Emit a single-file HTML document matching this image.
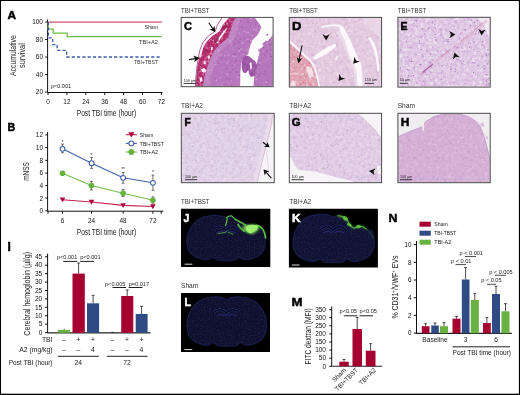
<!DOCTYPE html>
<html><head><meta charset="utf-8">
<style>
html,body{margin:0;padding:0;background:#fff;}
body{width:520px;height:395px;overflow:hidden;}
svg{display:block;font-family:"Liberation Sans",sans-serif;will-change:transform;}
</style></head><body>
<svg width="520" height="395" viewBox="0 0 520 395">
<rect x="0" y="0" width="520" height="395" fill="#000"/>
<rect x="1" y="1" width="517.9" height="392.7" fill="#fff"/>
<defs>
<filter id="spk" x="0" y="0" width="100%" height="100%" filterUnits="objectBoundingBox">
<feTurbulence type="fractalNoise" baseFrequency="0.42" numOctaves="2" seed="4" result="n"/>
<feColorMatrix in="n" type="matrix" values="0 0 0 0 0.42  0 0 0 0 0.18  0 0 0 0 0.48  0 0 0 -3.0 1.55" result="c"/>
<feGaussianBlur stdDeviation="0.35"/>
<feComposite in2="SourceAlpha" operator="in"/>
</filter>
<filter id="spkw" x="0" y="0" width="100%" height="100%" filterUnits="objectBoundingBox">
<feTurbulence type="fractalNoise" baseFrequency="0.38" numOctaves="2" seed="9" result="n"/>
<feColorMatrix in="n" type="matrix" values="0 0 0 0 1  0 0 0 0 1  0 0 0 0 1  0 0 0 2.2 -1.0" result="c"/>
<feGaussianBlur stdDeviation="0.4"/>
<feComposite in2="SourceAlpha" operator="in"/>
</filter>
<clipPath id="cC"><rect x="181.7" y="17.9" width="91" height="68.4"/></clipPath>
<clipPath id="cD"><rect x="289.8" y="17.9" width="91.3" height="68.6"/></clipPath>
<clipPath id="cE"><rect x="398.4" y="17.8" width="91.3" height="68.8"/></clipPath>
<clipPath id="cF"><rect x="181.8" y="113.8" width="91.9" height="68.4"/></clipPath>
<clipPath id="cG"><rect x="289.8" y="113.8" width="91.3" height="68.4"/></clipPath>
<clipPath id="cH"><rect x="398.4" y="113.8" width="91.3" height="68.4"/></clipPath>
<g id="ahd"><path d="M0 0L-3.6 -6.1L0 -4.4L3.6 -6.1Z" fill="#111" stroke="#fff" stroke-width="0.5" stroke-opacity="0.5" paint-order="stroke"/></g>
<clipPath id="cJ"><rect x="181" y="208.8" width="89.3" height="58.1"/></clipPath>
<clipPath id="cK"><rect x="288.9" y="208.8" width="89" height="58.7"/></clipPath>
<clipPath id="cL"><rect x="180.9" y="292.9" width="89" height="59"/></clipPath>
<filter id="bl1"><feGaussianBlur stdDeviation="0.8"/></filter>
<filter id="bl2"><feGaussianBlur stdDeviation="1.6"/></filter>
<filter id="bspk" x="0" y="0" width="100%" height="100%" filterUnits="objectBoundingBox">
<feTurbulence type="fractalNoise" baseFrequency="0.8" numOctaves="1" seed="2" result="n"/>
<feColorMatrix in="n" type="matrix" values="0 0 0 0 0.2  0 0 0 0 0.2  0 0 0 0 0.52  0 0 0 2.0 -0.9" result="c"/>
<feComposite in2="SourceAlpha" operator="in"/>
</filter>
<path id="brain" d="M0 -22C-4 -25 -10 -25.5 -17 -24.5C-24 -23.5 -29 -21 -33 -16C-37 -11 -40 -4 -40 3.5C-40 9 -39 13 -36 16.5C-33 20 -27 22.5 -21 23.6C-17 24 -15 21 -13.6 21C-12 21 -11 23.6 -8 24.2C-5 24.6 -2 24.5 0 24.5C2 24.5 5 24.6 8 24.2C11 23.6 12 21 13.6 21C15 21 17 24 21 23.6C27 22.5 33 20 36 16.5C39 13 40 9 40 3.5C40 -4 37 -11 33 -16C29 -21 24 -23.5 17 -24.5C10 -25.5 4 -25 0 -22Z"/>
<filter id="mot" x="0" y="0" width="100%" height="100%" filterUnits="objectBoundingBox">
<feTurbulence type="fractalNoise" baseFrequency="0.28" numOctaves="3" seed="3"/>
<feColorMatrix type="matrix" values="0 0 0 0 0.5  0 0 0 0 0.25  0 0 0 0 0.55  0 0 0 -1.3 0.72"/>
<feComposite in2="SourceAlpha" operator="in"/>
</filter>
<filter id="motw" x="0" y="0" width="100%" height="100%" filterUnits="objectBoundingBox">
<feTurbulence type="fractalNoise" baseFrequency="0.33" numOctaves="2" seed="11"/>
<feColorMatrix type="matrix" values="0 0 0 0 1  0 0 0 0 1  0 0 0 0 1  0 0 0 2.4 -1.12"/>
<feGaussianBlur stdDeviation="0.3"/>
<feComposite in2="SourceAlpha" operator="in"/>
</filter>
</defs>
<!-- ============ PANEL A ============ -->
<g id="A">
<text x="7.5" y="19.0" font-size="11" font-weight="bold" stroke="#000" stroke-width="0.45" fill="#000" textLength="8.6" lengthAdjust="spacingAndGlyphs">A</text>
<g fill="#111" font-size="6.5" text-anchor="end">
<text x="43" y="24.3">100</text><text x="43" y="41.8">80</text><text x="43" y="59.3">60</text><text x="43" y="76.8">40</text><text x="43" y="94.3">20</text>
</g>
<g stroke="#111" stroke-width="1" fill="none">
<path d="M47.6 19.5V92.5H162.5"/>
<path d="M45.2 22H47.6M45.2 39.5H47.6M45.2 57H47.6M45.2 74.5H47.6M45.2 92H47.6"/>
<path d="M48 92.5v2.5M66.9 92.5v2.5M85.8 92.5v2.5M104.7 92.5v2.5M123.6 92.5v2.5M142.5 92.5v2.5M161.4 92.5v2.5"/>
</g>
<g fill="#111" font-size="6.4" text-anchor="middle">
<text x="48" y="104">0</text><text x="66.9" y="104">12</text><text x="85.8" y="104">24</text><text x="104.7" y="104">36</text><text x="123.6" y="104">48</text><text x="142.5" y="104">60</text><text x="161.4" y="104">72</text>
</g>
<text x="106.45" y="116.3" font-size="8.6" fill="#222" text-anchor="middle" textLength="59.5" lengthAdjust="spacingAndGlyphs">Post TBI time (hour)</text>
<g fill="#222" font-size="8.7" text-anchor="middle">
<text transform="translate(15.8,55.6) rotate(-90)" textLength="41" lengthAdjust="spacingAndGlyphs">Accumulative</text>
<text transform="translate(25.3,55.6) rotate(-90)" textLength="24.7" lengthAdjust="spacingAndGlyphs">survival</text>
</g>
<path d="M48.5 22H161.8" stroke="#d4506e" stroke-width="1.25" fill="none"/>
<path d="M48.2 22V29.1H53.2V33H67.2V36.7H161.8" stroke="#6cbd48" stroke-width="1.25" fill="none"/>
<path d="M48.4 22V37.8H52.7V44.7H57.1V50.3H66.6V57H161.8" stroke="#3b5ca8" stroke-width="1.3" fill="none" stroke-dasharray="3.2 2.1"/>
<g fill="#333" font-size="6" text-anchor="end">
<text x="158" y="28.6" textLength="13.5" lengthAdjust="spacingAndGlyphs">Sham</text><text x="158" y="44.2" textLength="19" lengthAdjust="spacingAndGlyphs">TBI+A2</text><text x="158" y="64" textLength="24" lengthAdjust="spacingAndGlyphs">TBI+TBST</text>
</g>
<text x="51" y="88" font-size="6" fill="#222" textLength="20" lengthAdjust="spacingAndGlyphs">p&lt;0.001</text>
</g>

<!-- ============ PANEL B ============ -->
<g id="B">
<text x="7.4" y="131.3" font-size="10.4" font-weight="bold" stroke="#000" stroke-width="0.45" fill="#000" textLength="7.7" lengthAdjust="spacingAndGlyphs">B</text>
<g fill="#111" font-size="6.5" text-anchor="end">
<text x="43" y="137.3">12</text><text x="43" y="150">10</text><text x="43" y="162.7">8</text><text x="43" y="175.4">6</text><text x="43" y="188">4</text><text x="43" y="200.6">2</text><text x="43" y="213.2">0</text>
</g>
<g stroke="#111" stroke-width="1" fill="none">
<path d="M47.6 132V211.2H163.3"/>
<path d="M45.3 134.9H47.8M45.3 147.6H47.8M45.3 160.3H47.8M45.3 173.1H47.8M45.3 185.6H47.8M45.3 198H47.8M45.3 210.8H47.8"/>
<path d="M48 211.2v2.5M62.5 211.2v2.5M91.5 211.2v2.5M123.1 211.2v2.5M152.9 211.2v2.5M161.2 211.2v2.5"/>
</g>
<g fill="#111" font-size="6.4" text-anchor="middle">
<text x="62.5" y="223">6</text><text x="91.5" y="223">24</text><text x="123.1" y="223">48</text><text x="152.9" y="223">72</text>
</g>
<text x="106.45" y="234.5" font-size="8.6" fill="#222" text-anchor="middle" textLength="59.5" lengthAdjust="spacingAndGlyphs">Post TBI time (hour)</text>
<text transform="translate(29.2,171.5) rotate(-90)" font-size="8.8" fill="#222" text-anchor="middle" textLength="18.7" lengthAdjust="spacingAndGlyphs">mNSS</text>
<!-- error bars -->
<g stroke="#333" stroke-width="0.7" fill="none">
<path d="M62.5 144.1V152.8M61.1 144.1h2.8M61.1 152.8h2.8"/>
<path d="M91.6 157.4V168.4M90.2 157.4h2.8M90.2 168.4h2.8"/>
<path d="M123.1 172.4V183.2M121.7 172.4h2.8M121.7 183.2h2.8"/>
<path d="M152.9 175.1V190.3M151.5 175.1h2.8M151.5 190.3h2.8"/>
<path d="M91.4 181.4V189.9M90.0 181.4h2.8M90.0 189.9h2.8"/>
<path d="M123.1 189.6V196.6M121.7 189.6h2.8M121.7 196.6h2.8"/>
<path d="M152.9 196.9V203.2M151.5 196.9h2.8M151.5 203.2h2.8"/>
</g>
<g fill="#333" font-size="5" text-anchor="middle">
<text x="62.5" y="143.5">*</text><text x="91.6" y="156.8">*</text><text x="123.1" y="171.2">**</text><text x="152.9" y="174.4">*</text>
</g>
<path d="M62.5 199.7L91.5 202L123.1 205.4L152.9 206.5" stroke="#c0234f" stroke-width="1.1" fill="none"/>
<path d="M62.5 173.3L91.4 185.6L123.1 193.3L152.9 200.3" stroke="#74bb4c" stroke-width="1.1" fill="none"/>
<path d="M62.5 148.8L91.6 163.2L123.1 177.8L152.9 182.8" stroke="#3d5ea8" stroke-width="1.1" fill="none"/>
<g fill="#a8093a"><path d="M59.70 197.54h5.6l-2.80 4.8z"/><path d="M88.70 199.84h5.6l-2.80 4.8z"/><path d="M120.30 203.24h5.6l-2.80 4.8z"/><path d="M150.10 204.34h5.6l-2.80 4.8z"/></g>
<g fill="#66b23e">
<circle cx="62.5" cy="173.3" r="2.8"/><circle cx="91.4" cy="185.6" r="2.8"/><circle cx="123.1" cy="193.3" r="2.8"/><circle cx="152.9" cy="200.3" r="2.8"/>
</g>
<g fill="#fff" stroke="#3d5ea8" stroke-width="1.05">
<circle cx="62.5" cy="148.8" r="2.4"/><circle cx="91.6" cy="163.2" r="2.4"/><circle cx="123.1" cy="177.8" r="2.4"/><circle cx="152.9" cy="182.8" r="2.4"/>
</g>
<!-- legend -->
<path d="M125.8 134.7h11.1" stroke="#c0234f" stroke-width="1.1"/><path d="M128.2 132.3h6.25l-3.12 5.3z" fill="#a8093a"/>
<path d="M125.8 143.4h11.1" stroke="#3d5ea8" stroke-width="1.1"/><circle cx="131.3" cy="143.4" r="2.4" fill="#fff" stroke="#3d5ea8" stroke-width="1.05"/>
<path d="M125.8 152h11.1" stroke="#74bb4c" stroke-width="1.1"/><circle cx="131.3" cy="152" r="2.9" fill="#66b23e"/>
<g fill="#222" font-size="5.6">
<text x="139.8" y="136.5" textLength="13.4" lengthAdjust="spacingAndGlyphs">Sham</text><text x="139.8" y="145.6" textLength="24" lengthAdjust="spacingAndGlyphs">TBI+TBST</text><text x="139.8" y="154.2" textLength="18.2" lengthAdjust="spacingAndGlyphs">TBI+A2</text>
</g>
</g>

<!-- ============ PANEL I ============ -->
<g id="I">
<text x="7.6" y="250.5" font-size="12" font-weight="bold" stroke="#000" stroke-width="0.45" fill="#000">I</text>
<text transform="translate(29.5,293.8) rotate(-90)" font-size="9.6" fill="#222" text-anchor="middle" textLength="83.7" lengthAdjust="spacingAndGlyphs">Cerebral hemoglobin (µl/g)</text>
<g fill="#111" font-size="6.6" text-anchor="end">
<text x="42.3" y="259">45</text><text x="42.3" y="267.4">40</text><text x="42.3" y="275.8">35</text><text x="42.3" y="284.3">30</text><text x="42.3" y="292.7">25</text><text x="42.3" y="301.1">20</text><text x="42.3" y="309.5">15</text><text x="42.3" y="317.9">10</text><text x="42.3" y="326.4">5</text><text x="42.3" y="334.8">0</text>
</g>
<g stroke="#111" stroke-width="1" fill="none">
<path d="M47.6 253.5V332.8"/>
<path d="M45 256.8H47.7M45 265.2H47.7M45 273.6H47.7M45 282.1H47.7M45 290.5H47.7M45 298.9H47.7M45 307.3H47.7M45 315.7H47.7M45 324.2H47.7M45 332.6H47.7"/>
</g>
<path d="M47.2 332.8H150.5" stroke="#222" stroke-width="1.2"/>
<g stroke="#222" stroke-width="0.8" fill="none">
<path d="M64.2 329.9V328.8"/>
<path d="M78.6 273.6V263M77.1 263h3"/>
<path d="M93.1 303.3V295.3M91.6 295.3h3"/>
<path d="M127.2 296V290M125.7 290h3"/>
<path d="M141.6 314V306.3M140.1 306.3h3"/>
<path d="M111.1 332.4h3"/>
</g>
<rect x="57.8" y="329.9" width="12.2" height="2.9" fill="#69b141"/>
<rect x="72.5" y="273.6" width="12.3" height="59.2" fill="#a5002f"/>
<rect x="87" y="303.3" width="12.1" height="29.5" fill="#2e4b86"/>
<rect x="121.2" y="296" width="12.1" height="36.8" fill="#a5002f"/>
<rect x="135.7" y="314" width="11.9" height="18.8" fill="#2e4b86"/>
<g fill="#222" font-size="5.6">
<text x="56.9" y="258.9">p&lt;0.001</text><text x="80.2" y="258.9">p&lt;0.001</text>
<text x="105" y="285.7">p&lt;0.005</text><text x="128.7" y="285.7">p=0.017</text>
</g>
<g stroke="#222" stroke-width="1">
<path d="M63.2 261.4H77.3M80.2 261.4H94"/>
<path d="M112.5 287.5H126.2M128.7 287.5H142.5"/>
</g>
<g fill="#222" font-size="6.8" text-anchor="end">
<text x="52.5" y="342">TBI</text><text x="52.5" y="352">A2 (mg/kg)</text><text x="52.5" y="365" textLength="43.7" lengthAdjust="spacingAndGlyphs">Post TBI (hour)</text>
</g>
<g fill="#222" font-size="6.8" text-anchor="middle">
<text x="63.8" y="342">–</text><text x="78.3" y="342">+</text><text x="93" y="342">+</text><text x="112.5" y="342">–</text><text x="127" y="342">+</text><text x="141.5" y="342">+</text>
<text x="63.8" y="352">–</text><text x="78.3" y="352">–</text><text x="93" y="352">4</text><text x="112.5" y="352">–</text><text x="127" y="352">–</text><text x="141.5" y="352">4</text>
<text x="78.3" y="365">24</text><text x="127" y="365">72</text>
</g>
<path d="M58 356.3H98.8M106.8 356.3H147.5" stroke="#222" stroke-width="1"/>
</g>

<!-- ============ HISTOLOGY LABELS ============ -->
<g fill="#333" font-size="6.6">
<text x="181" y="12.8" textLength="28.6" lengthAdjust="spacingAndGlyphs">TBI+TBST</text>
<text x="289.2" y="12.8" textLength="28.6" lengthAdjust="spacingAndGlyphs">TBI+TBST</text>
<text x="397.7" y="12.8" textLength="28.6" lengthAdjust="spacingAndGlyphs">TBI+TBST</text>
<text x="181" y="108.4" textLength="22" lengthAdjust="spacingAndGlyphs">TBI+A2</text>
<text x="289.2" y="108.4" textLength="22" lengthAdjust="spacingAndGlyphs">TBI+A2</text>
<text x="397.7" y="108.4">Sham</text>
<text x="181" y="204" textLength="28.6" lengthAdjust="spacingAndGlyphs">TBI+TBST</text>
<text x="289.2" y="204" textLength="22" lengthAdjust="spacingAndGlyphs">TBI+A2</text>
<text x="181" y="288.2">Sham</text>
</g>
<!-- ============ PANEL C ============ -->
<g clip-path="url(#cC)">
<rect x="181" y="17" width="93" height="71" fill="#fdfdfd"/>
<path d="M234 17.4H254.3L259.6 24.1L261.4 27.6L257.8 34.7L252.5 40L249.8 47.1L248.1 54.2L244 58L241 64L240.3 72L240.1 87.5H195.4L196 76L197 66L198.5 57L200.1 49.4L203.1 42.3L208.2 36.2L215.2 31.2L217.3 25.1L222.3 17.4Z" fill="#b877bc"/>
<path d="M234 17.4H254.3L259.6 24.1L261.4 27.6L257.8 34.7L252.5 40L249.8 47.1L248.1 54.2L244 58L241 64L240.3 72L240.1 87.5H195.4L196 76L197 66L198.5 57L200.1 49.4L203.1 42.3L208.2 36.2L215.2 31.2L217.3 25.1L222.3 17.4Z" fill="#000" filter="url(#mot)" opacity="0.8"/>
<path d="M262 44L266 40.5L268 41.5L264 46Z M258 50L261 48L261.5 50.5L259 52Z M265 35L268 33.5L268.5 35.5Z" fill="#b47abc"/>
<path d="M274 33L270.2 38.3L265.8 43.6L261.4 48L259.6 52.5L257.8 59.6L255.2 68.4L254.3 75.5L253.4 87.5H274Z" fill="#b676bb"/>
<path d="M274 33L270.2 38.3L265.8 43.6L261.4 48L259.6 52.5L257.8 59.6L255.2 68.4L254.3 75.5L253.4 87.5H274Z" fill="#000" filter="url(#mot)" opacity="0.8"/>
<path d="M242.8 57.5L246 55.5L249.5 56.5L252 59L255.5 61.5L257 66L256.5 72L254.5 76L251 77L249 74L248.5 70L246 73L243 72.5L241.5 66Z" fill="#9c55a4"/>
<path d="M242.8 57.5L246 55.5L249.5 56.5L252 59L255.5 61.5L257 66L256.5 72L254.5 76L251 77L249 74L248.5 70L246 73L243 72.5L241.5 66Z" fill="#000" filter="url(#mot)" opacity="0.8"/>
<clipPath id="cCt"><path d="M234 17.4H254.3L259.6 24.1L261.4 27.6L257.8 34.7L252.5 40L249.8 47.1L248.1 54.2L244 58L241 64L240.3 72L240.1 87.5H195.4L196 76L197 66L198.5 57L200.1 49.4L203.1 42.3L208.2 36.2L215.2 31.2L217.3 25.1L222.3 17.4Z"/><path d="M274 33L270.2 38.3L265.8 43.6L261.4 48L259.6 52.5L257.8 59.6L255.2 68.4L254.3 75.5L253.4 87.5H274Z"/></clipPath>
<g clip-path="url(#cCt)"><g fill="#7a3c8c" opacity="0.45"><circle cx="258.1" cy="40.1" r="0.53"/><circle cx="260.0" cy="25.2" r="0.62"/><circle cx="239.1" cy="60.4" r="0.50"/><circle cx="244.8" cy="52.5" r="0.75"/><circle cx="197.2" cy="85.0" r="0.51"/><circle cx="259.3" cy="53.0" r="0.74"/><circle cx="209.4" cy="39.8" r="0.48"/><circle cx="256.5" cy="54.9" r="0.52"/><circle cx="210.1" cy="22.7" r="0.52"/><circle cx="239.2" cy="48.1" r="0.70"/><circle cx="201.0" cy="76.6" r="0.79"/><circle cx="253.4" cy="69.8" r="0.75"/><circle cx="202.5" cy="49.7" r="0.48"/><circle cx="256.7" cy="55.2" r="0.49"/><circle cx="230.1" cy="72.2" r="0.64"/><circle cx="204.6" cy="83.5" r="0.47"/><circle cx="261.6" cy="86.2" r="0.71"/><circle cx="269.7" cy="54.7" r="0.53"/><circle cx="232.3" cy="69.4" r="0.72"/><circle cx="225.4" cy="84.3" r="0.46"/><circle cx="234.2" cy="19.8" r="0.58"/><circle cx="273.2" cy="25.4" r="0.79"/><circle cx="266.5" cy="65.9" r="0.47"/><circle cx="232.2" cy="66.1" r="0.48"/><circle cx="218.6" cy="23.5" r="0.75"/><circle cx="267.3" cy="82.6" r="0.71"/><circle cx="240.5" cy="21.4" r="0.62"/><circle cx="255.1" cy="70.7" r="0.46"/><circle cx="195.6" cy="23.3" r="0.77"/><circle cx="204.0" cy="44.7" r="0.62"/><circle cx="264.8" cy="26.6" r="0.54"/><circle cx="256.0" cy="23.1" r="0.51"/><circle cx="197.0" cy="85.0" r="0.53"/><circle cx="234.6" cy="43.9" r="0.79"/><circle cx="251.3" cy="59.7" r="0.62"/><circle cx="216.2" cy="76.6" r="0.49"/><circle cx="244.1" cy="37.9" r="0.55"/><circle cx="230.8" cy="30.4" r="0.66"/><circle cx="200.6" cy="18.3" r="0.50"/><circle cx="202.1" cy="79.4" r="0.63"/><circle cx="248.6" cy="72.3" r="0.51"/><circle cx="270.2" cy="44.3" r="0.61"/><circle cx="233.6" cy="66.4" r="0.72"/><circle cx="210.3" cy="75.8" r="0.60"/><circle cx="214.8" cy="78.4" r="0.76"/><circle cx="262.8" cy="40.0" r="0.77"/><circle cx="256.3" cy="85.9" r="0.71"/><circle cx="274.0" cy="50.9" r="0.71"/><circle cx="256.7" cy="54.2" r="0.63"/><circle cx="226.6" cy="78.7" r="0.58"/><circle cx="254.0" cy="56.9" r="0.70"/><circle cx="219.4" cy="22.6" r="0.69"/><circle cx="206.5" cy="42.5" r="0.72"/><circle cx="198.9" cy="81.7" r="0.66"/><circle cx="239.3" cy="65.1" r="0.47"/><circle cx="196.7" cy="68.2" r="0.66"/><circle cx="245.5" cy="75.4" r="0.54"/><circle cx="207.7" cy="85.8" r="0.47"/><circle cx="235.7" cy="61.3" r="0.78"/><circle cx="201.8" cy="66.9" r="0.48"/><circle cx="230.9" cy="61.0" r="0.75"/><circle cx="198.7" cy="70.1" r="0.50"/><circle cx="227.0" cy="86.7" r="0.75"/><circle cx="201.1" cy="17.3" r="0.46"/><circle cx="256.7" cy="19.7" r="0.72"/><circle cx="258.8" cy="75.0" r="0.78"/><circle cx="245.0" cy="75.6" r="0.64"/><circle cx="247.8" cy="21.9" r="0.64"/><circle cx="273.2" cy="44.6" r="0.70"/><circle cx="209.1" cy="51.2" r="0.64"/><circle cx="255.8" cy="39.9" r="0.61"/><circle cx="210.0" cy="58.0" r="0.78"/><circle cx="225.5" cy="63.8" r="0.64"/><circle cx="210.5" cy="66.4" r="0.52"/><circle cx="243.5" cy="87.6" r="0.56"/><circle cx="247.8" cy="41.1" r="0.68"/><circle cx="210.1" cy="52.5" r="0.72"/><circle cx="211.8" cy="42.2" r="0.53"/><circle cx="207.5" cy="64.6" r="0.74"/><circle cx="236.6" cy="48.7" r="0.56"/><circle cx="213.9" cy="83.9" r="0.62"/><circle cx="248.9" cy="36.8" r="0.51"/><circle cx="195.7" cy="38.0" r="0.60"/><circle cx="236.2" cy="60.8" r="0.69"/><circle cx="264.2" cy="73.9" r="0.69"/><circle cx="258.6" cy="55.5" r="0.62"/><circle cx="267.3" cy="80.4" r="0.59"/><circle cx="263.5" cy="47.5" r="0.71"/><circle cx="196.9" cy="59.2" r="0.78"/><circle cx="229.7" cy="78.8" r="0.69"/><circle cx="196.6" cy="22.4" r="0.57"/><circle cx="271.7" cy="63.6" r="0.66"/><circle cx="262.9" cy="41.9" r="0.50"/><circle cx="230.2" cy="81.5" r="0.51"/><circle cx="233.9" cy="37.9" r="0.58"/><circle cx="202.3" cy="81.4" r="0.54"/><circle cx="257.3" cy="29.3" r="0.60"/><circle cx="196.9" cy="58.8" r="0.63"/><circle cx="229.1" cy="31.2" r="0.67"/><circle cx="197.8" cy="83.3" r="0.62"/><circle cx="243.3" cy="47.1" r="0.46"/><circle cx="197.4" cy="68.5" r="0.62"/><circle cx="217.0" cy="55.2" r="0.75"/><circle cx="235.3" cy="53.8" r="0.65"/><circle cx="264.0" cy="19.2" r="0.68"/><circle cx="240.5" cy="67.9" r="0.51"/><circle cx="260.5" cy="73.3" r="0.55"/><circle cx="269.9" cy="20.7" r="0.64"/><circle cx="201.8" cy="30.4" r="0.67"/><circle cx="250.7" cy="51.0" r="0.54"/><circle cx="238.1" cy="48.8" r="0.58"/><circle cx="227.4" cy="49.8" r="0.58"/><circle cx="204.7" cy="52.3" r="0.55"/><circle cx="257.6" cy="84.8" r="0.71"/><circle cx="221.1" cy="50.8" r="0.71"/><circle cx="213.1" cy="73.8" r="0.47"/><circle cx="271.4" cy="56.5" r="0.72"/><circle cx="242.4" cy="77.3" r="0.60"/><circle cx="202.2" cy="31.6" r="0.71"/><circle cx="272.7" cy="33.2" r="0.62"/><circle cx="256.7" cy="38.6" r="0.53"/><circle cx="255.4" cy="25.3" r="0.57"/><circle cx="242.0" cy="52.3" r="0.78"/><circle cx="233.2" cy="46.0" r="0.52"/><circle cx="259.5" cy="20.5" r="0.46"/><circle cx="223.9" cy="74.1" r="0.54"/><circle cx="232.0" cy="23.5" r="0.55"/><circle cx="269.2" cy="78.0" r="0.48"/><circle cx="270.5" cy="50.3" r="0.50"/><circle cx="224.0" cy="85.3" r="0.51"/><circle cx="255.2" cy="83.5" r="0.77"/><circle cx="254.7" cy="82.6" r="0.49"/><circle cx="249.9" cy="85.3" r="0.63"/><circle cx="196.2" cy="37.6" r="0.60"/><circle cx="227.6" cy="68.4" r="0.51"/><circle cx="195.5" cy="63.7" r="0.80"/><circle cx="233.2" cy="65.3" r="0.70"/><circle cx="248.0" cy="73.4" r="0.46"/><circle cx="250.6" cy="47.9" r="0.59"/><circle cx="258.4" cy="26.2" r="0.77"/><circle cx="259.1" cy="76.2" r="0.77"/><circle cx="212.2" cy="59.2" r="0.77"/><circle cx="237.9" cy="65.4" r="0.49"/><circle cx="247.7" cy="18.8" r="0.63"/><circle cx="197.2" cy="38.9" r="0.49"/><circle cx="216.7" cy="26.2" r="0.69"/><circle cx="236.6" cy="71.9" r="0.73"/><circle cx="251.1" cy="59.8" r="0.63"/><circle cx="255.9" cy="47.7" r="0.58"/><circle cx="226.4" cy="18.8" r="0.52"/><circle cx="244.1" cy="44.9" r="0.60"/><circle cx="202.6" cy="27.9" r="0.76"/><circle cx="258.2" cy="42.4" r="0.77"/><circle cx="240.2" cy="70.2" r="0.50"/><circle cx="270.6" cy="49.2" r="0.50"/><circle cx="200.3" cy="21.5" r="0.45"/><circle cx="256.4" cy="73.4" r="0.54"/><circle cx="218.3" cy="81.8" r="0.53"/><circle cx="266.1" cy="75.5" r="0.59"/><circle cx="231.1" cy="45.7" r="0.58"/><circle cx="250.6" cy="65.2" r="0.80"/><circle cx="204.5" cy="38.9" r="0.64"/><circle cx="257.5" cy="87.5" r="0.74"/><circle cx="202.4" cy="71.2" r="0.53"/><circle cx="229.1" cy="22.3" r="0.46"/><circle cx="228.9" cy="79.3" r="0.55"/><circle cx="197.3" cy="66.0" r="0.55"/><circle cx="201.8" cy="31.4" r="0.76"/><circle cx="266.1" cy="52.3" r="0.62"/><circle cx="249.6" cy="41.4" r="0.58"/><circle cx="256.7" cy="64.3" r="0.76"/><circle cx="240.0" cy="75.7" r="0.74"/><circle cx="213.7" cy="62.5" r="0.64"/><circle cx="207.7" cy="32.6" r="0.59"/><circle cx="269.8" cy="19.4" r="0.79"/><circle cx="270.0" cy="45.6" r="0.67"/><circle cx="218.9" cy="20.0" r="0.46"/><circle cx="252.7" cy="33.3" r="0.63"/><circle cx="217.6" cy="17.7" r="0.59"/><circle cx="231.4" cy="85.3" r="0.63"/><circle cx="271.7" cy="45.5" r="0.75"/><circle cx="235.9" cy="18.6" r="0.77"/><circle cx="249.3" cy="58.0" r="0.60"/><circle cx="195.7" cy="79.0" r="0.47"/><circle cx="203.5" cy="72.1" r="0.55"/><circle cx="221.7" cy="36.4" r="0.61"/><circle cx="257.3" cy="40.6" r="0.50"/><circle cx="238.5" cy="42.1" r="0.76"/><circle cx="199.9" cy="46.7" r="0.60"/><circle cx="258.9" cy="30.3" r="0.73"/><circle cx="238.6" cy="75.9" r="0.73"/><circle cx="234.7" cy="68.2" r="0.50"/><circle cx="254.6" cy="32.1" r="0.65"/><circle cx="208.1" cy="84.3" r="0.59"/><circle cx="246.8" cy="53.0" r="0.69"/><circle cx="210.4" cy="71.9" r="0.59"/><circle cx="245.7" cy="83.2" r="0.68"/><circle cx="254.7" cy="51.7" r="0.62"/><circle cx="267.1" cy="50.5" r="0.46"/><circle cx="219.7" cy="50.8" r="0.46"/><circle cx="202.8" cy="57.4" r="0.51"/><circle cx="269.4" cy="25.6" r="0.56"/><circle cx="202.4" cy="44.2" r="0.45"/><circle cx="243.4" cy="26.8" r="0.49"/><circle cx="222.9" cy="25.1" r="0.54"/><circle cx="269.3" cy="39.6" r="0.69"/><circle cx="246.9" cy="64.8" r="0.61"/><circle cx="229.8" cy="63.1" r="0.50"/><circle cx="198.5" cy="24.5" r="0.46"/><circle cx="231.7" cy="23.5" r="0.61"/><circle cx="240.2" cy="34.1" r="0.69"/><circle cx="235.3" cy="39.5" r="0.63"/><circle cx="197.6" cy="55.9" r="0.51"/><circle cx="269.9" cy="56.4" r="0.63"/><circle cx="212.0" cy="22.7" r="0.51"/><circle cx="222.6" cy="29.4" r="0.76"/><circle cx="218.6" cy="47.1" r="0.58"/><circle cx="224.1" cy="29.7" r="0.69"/><circle cx="260.9" cy="57.3" r="0.53"/><circle cx="255.8" cy="19.4" r="0.69"/><circle cx="229.5" cy="30.6" r="0.79"/><circle cx="200.8" cy="39.8" r="0.68"/><circle cx="198.5" cy="71.1" r="0.45"/><circle cx="208.9" cy="79.2" r="0.46"/><circle cx="263.7" cy="28.5" r="0.58"/><circle cx="218.6" cy="63.3" r="0.67"/><circle cx="208.4" cy="35.6" r="0.62"/><circle cx="267.1" cy="51.0" r="0.68"/><circle cx="258.7" cy="65.1" r="0.75"/><circle cx="225.1" cy="68.8" r="0.48"/><circle cx="211.2" cy="21.5" r="0.75"/><circle cx="208.7" cy="50.5" r="0.57"/><circle cx="217.1" cy="26.4" r="0.60"/><circle cx="234.0" cy="54.5" r="0.69"/><circle cx="264.2" cy="55.0" r="0.64"/><circle cx="209.0" cy="43.7" r="0.56"/><circle cx="250.6" cy="25.9" r="0.62"/><circle cx="213.3" cy="80.4" r="0.51"/><circle cx="240.4" cy="39.5" r="0.66"/><circle cx="196.8" cy="72.2" r="0.55"/><circle cx="226.3" cy="59.2" r="0.78"/><circle cx="239.5" cy="54.2" r="0.48"/><circle cx="208.0" cy="29.7" r="0.75"/><circle cx="196.5" cy="74.7" r="0.57"/><circle cx="255.8" cy="50.1" r="0.77"/><circle cx="225.6" cy="28.7" r="0.58"/><circle cx="241.9" cy="27.5" r="0.67"/><circle cx="261.3" cy="17.4" r="0.79"/><circle cx="221.6" cy="58.2" r="0.77"/><circle cx="244.5" cy="83.8" r="0.71"/><circle cx="265.4" cy="71.7" r="0.63"/><circle cx="213.5" cy="62.3" r="0.74"/><circle cx="199.4" cy="74.2" r="0.59"/><circle cx="211.5" cy="24.1" r="0.71"/><circle cx="228.8" cy="19.7" r="0.53"/><circle cx="198.7" cy="36.9" r="0.51"/><circle cx="227.9" cy="22.7" r="0.45"/><circle cx="248.2" cy="83.9" r="0.70"/><circle cx="204.7" cy="85.3" r="0.74"/><circle cx="269.9" cy="44.3" r="0.63"/></g><g fill="#e6c6e6" opacity="0.5"><circle cx="259.3" cy="23.8" r="0.87"/><circle cx="252.7" cy="35.3" r="0.67"/><circle cx="197.7" cy="27.5" r="0.76"/><circle cx="256.0" cy="30.4" r="0.78"/><circle cx="224.9" cy="55.8" r="0.83"/><circle cx="213.6" cy="29.4" r="0.67"/><circle cx="272.2" cy="45.9" r="0.84"/><circle cx="208.8" cy="70.5" r="0.84"/><circle cx="223.8" cy="31.6" r="0.54"/><circle cx="206.4" cy="37.7" r="0.74"/><circle cx="264.1" cy="35.2" r="0.87"/><circle cx="208.2" cy="52.5" r="0.80"/><circle cx="266.2" cy="81.8" r="0.88"/><circle cx="201.6" cy="78.4" r="0.50"/><circle cx="231.2" cy="42.9" r="0.67"/><circle cx="201.8" cy="46.0" r="0.77"/><circle cx="247.9" cy="17.4" r="0.82"/><circle cx="219.8" cy="55.3" r="0.62"/><circle cx="248.1" cy="52.8" r="0.85"/><circle cx="199.5" cy="45.2" r="0.89"/><circle cx="196.8" cy="24.7" r="0.79"/><circle cx="272.4" cy="23.0" r="0.58"/><circle cx="249.7" cy="53.2" r="0.87"/><circle cx="204.9" cy="26.3" r="0.58"/><circle cx="228.8" cy="34.1" r="0.69"/><circle cx="202.1" cy="58.1" r="0.62"/><circle cx="212.4" cy="27.5" r="0.63"/><circle cx="218.5" cy="86.3" r="0.76"/><circle cx="263.3" cy="50.9" r="0.54"/><circle cx="244.7" cy="69.5" r="0.89"/><circle cx="195.5" cy="19.6" r="0.81"/><circle cx="213.5" cy="18.0" r="0.53"/><circle cx="258.8" cy="55.4" r="0.87"/><circle cx="256.3" cy="51.2" r="0.64"/><circle cx="222.3" cy="28.9" r="0.87"/><circle cx="227.2" cy="50.6" r="0.66"/><circle cx="238.1" cy="77.6" r="0.76"/><circle cx="233.8" cy="65.1" r="0.81"/><circle cx="243.2" cy="54.7" r="0.58"/><circle cx="206.9" cy="64.2" r="0.79"/><circle cx="260.9" cy="35.8" r="0.67"/><circle cx="195.6" cy="58.4" r="0.72"/><circle cx="215.7" cy="64.5" r="0.86"/><circle cx="228.9" cy="61.0" r="0.74"/><circle cx="239.2" cy="32.4" r="0.51"/><circle cx="273.2" cy="77.9" r="0.89"/><circle cx="261.7" cy="25.9" r="0.57"/><circle cx="227.3" cy="63.6" r="0.78"/><circle cx="248.5" cy="50.0" r="0.59"/><circle cx="243.4" cy="43.0" r="0.77"/><circle cx="207.7" cy="78.1" r="0.53"/><circle cx="273.2" cy="85.7" r="0.77"/><circle cx="244.3" cy="31.5" r="0.74"/><circle cx="230.2" cy="59.4" r="0.52"/><circle cx="259.8" cy="62.8" r="0.83"/><circle cx="257.5" cy="17.3" r="0.60"/><circle cx="242.4" cy="42.5" r="0.56"/><circle cx="253.8" cy="82.6" r="0.68"/><circle cx="233.2" cy="56.0" r="0.81"/><circle cx="241.0" cy="34.6" r="0.64"/><circle cx="209.0" cy="43.0" r="0.64"/><circle cx="263.6" cy="32.4" r="0.58"/><circle cx="221.6" cy="54.3" r="0.84"/><circle cx="231.2" cy="45.3" r="0.83"/><circle cx="201.2" cy="46.8" r="0.74"/><circle cx="205.4" cy="36.7" r="0.85"/><circle cx="250.8" cy="40.6" r="0.88"/><circle cx="234.0" cy="56.7" r="0.77"/><circle cx="265.4" cy="38.4" r="0.55"/><circle cx="227.2" cy="74.4" r="0.85"/><circle cx="239.2" cy="51.1" r="0.88"/><circle cx="220.8" cy="62.3" r="0.55"/><circle cx="256.0" cy="85.2" r="0.73"/><circle cx="197.2" cy="84.6" r="0.86"/><circle cx="244.9" cy="50.5" r="0.61"/><circle cx="230.4" cy="41.9" r="0.53"/><circle cx="206.1" cy="59.6" r="0.63"/><circle cx="217.1" cy="45.5" r="0.55"/><circle cx="231.5" cy="80.9" r="0.57"/><circle cx="250.0" cy="52.5" r="0.77"/><circle cx="246.6" cy="32.8" r="0.64"/><circle cx="273.0" cy="23.2" r="0.62"/><circle cx="272.3" cy="45.9" r="0.75"/><circle cx="229.8" cy="40.2" r="0.71"/><circle cx="209.0" cy="21.5" r="0.63"/><circle cx="199.2" cy="47.5" r="0.85"/><circle cx="231.7" cy="17.9" r="0.70"/><circle cx="214.1" cy="28.3" r="0.89"/><circle cx="239.0" cy="86.1" r="0.58"/><circle cx="253.4" cy="41.6" r="0.74"/><circle cx="198.9" cy="25.7" r="0.57"/><circle cx="238.0" cy="70.0" r="0.53"/><circle cx="222.0" cy="85.2" r="0.71"/><circle cx="228.7" cy="86.7" r="0.79"/><circle cx="229.4" cy="42.6" r="0.80"/><circle cx="237.4" cy="29.0" r="0.65"/><circle cx="261.3" cy="29.9" r="0.78"/><circle cx="266.0" cy="42.0" r="0.56"/><circle cx="262.5" cy="17.2" r="0.79"/><circle cx="246.7" cy="32.0" r="0.60"/><circle cx="218.8" cy="55.6" r="0.69"/><circle cx="268.8" cy="56.1" r="0.75"/><circle cx="257.3" cy="28.8" r="0.82"/><circle cx="201.9" cy="74.0" r="0.53"/><circle cx="215.8" cy="18.6" r="0.57"/><circle cx="218.9" cy="23.2" r="0.85"/><circle cx="247.9" cy="39.3" r="0.86"/><circle cx="210.4" cy="27.0" r="0.76"/><circle cx="201.8" cy="78.1" r="0.69"/><circle cx="226.5" cy="62.6" r="0.57"/><circle cx="266.7" cy="21.4" r="0.68"/><circle cx="250.4" cy="18.9" r="0.89"/><circle cx="238.1" cy="76.9" r="0.66"/><circle cx="228.6" cy="55.1" r="0.89"/><circle cx="233.5" cy="67.0" r="0.67"/><circle cx="216.4" cy="80.3" r="0.89"/><circle cx="195.8" cy="87.5" r="0.89"/><circle cx="233.1" cy="36.4" r="0.76"/><circle cx="266.8" cy="82.3" r="0.82"/><circle cx="263.1" cy="55.0" r="0.55"/><circle cx="267.2" cy="43.4" r="0.67"/><circle cx="229.7" cy="31.8" r="0.86"/><circle cx="197.1" cy="50.1" r="0.52"/><circle cx="251.4" cy="18.4" r="0.83"/><circle cx="241.0" cy="49.2" r="0.84"/><circle cx="230.5" cy="41.1" r="0.80"/><circle cx="209.0" cy="35.5" r="0.59"/><circle cx="208.8" cy="58.6" r="0.59"/><circle cx="236.1" cy="56.4" r="0.70"/><circle cx="239.4" cy="33.8" r="0.68"/><circle cx="256.3" cy="79.3" r="0.84"/><circle cx="197.0" cy="69.0" r="0.84"/><circle cx="207.1" cy="50.2" r="0.75"/><circle cx="232.6" cy="39.0" r="0.57"/><circle cx="201.9" cy="61.1" r="0.64"/><circle cx="222.3" cy="67.8" r="0.57"/><circle cx="218.6" cy="23.4" r="0.76"/><circle cx="211.6" cy="70.5" r="0.80"/><circle cx="264.3" cy="37.0" r="0.80"/><circle cx="253.6" cy="29.3" r="0.83"/><circle cx="220.2" cy="77.9" r="0.71"/><circle cx="201.1" cy="58.1" r="0.90"/><circle cx="245.0" cy="82.5" r="0.66"/><circle cx="248.1" cy="32.5" r="0.77"/><circle cx="266.1" cy="31.3" r="0.87"/><circle cx="252.0" cy="25.9" r="0.66"/><circle cx="218.6" cy="50.3" r="0.85"/><circle cx="257.3" cy="60.3" r="0.68"/><circle cx="216.7" cy="56.1" r="0.53"/><circle cx="272.2" cy="52.6" r="0.78"/><circle cx="202.0" cy="28.2" r="0.76"/><circle cx="268.3" cy="47.8" r="0.58"/><circle cx="255.9" cy="71.9" r="0.53"/><circle cx="247.1" cy="49.3" r="0.57"/><circle cx="268.2" cy="59.3" r="0.76"/><circle cx="256.2" cy="70.3" r="0.73"/><circle cx="219.9" cy="50.9" r="0.71"/><circle cx="216.7" cy="28.3" r="0.52"/><circle cx="251.3" cy="36.0" r="0.57"/><circle cx="213.7" cy="80.9" r="0.55"/></g></g>
<path d="M249.5 63L251.5 62L252 68L250.5 70Z" fill="#f3eaf3"/>
<path d="M234.5 17.4L233.5 20.0L231.0 28.0L228.4 37.2L220.3 44.3L214.2 50.4L211.2 57.0L207.5 66.0L204.5 76.0L202.5 87.5" stroke="#cf9bd0" stroke-width="6" fill="none" opacity="0.45" transform="translate(3.5,0)"/>
<path d="M222.0 17.4L217.0 25.1L214.9 31.2L207.9 36.2L202.8 42.3L199.8 49.4L198.2 57.0L196.7 66.0L195.7 76.0L195.1 87.5L196.0 87.5L196.6 76.0L197.6 66.0L199.7 57.0L202.3 49.4L206.3 42.3L212.2 36.2L219.8 31.2L222.8 25.1L229.3 17.4Z" fill="#fbf7fa"/>
<path d="M229.3 17.4L222.8 25.1L219.8 31.2L212.2 36.2L206.3 42.3L202.3 49.4L199.7 57.0L197.6 66.0L196.6 76.0L196.0 87.5L202.5 87.5L204.5 76.0L207.5 66.0L211.2 57.0L214.2 50.4L220.3 44.3L228.4 37.2L231.0 28.0L234.0 20.0L235.5 17.4Z" fill="#b3296a"/>
<path d="M229.3 17.4L222.8 25.1L219.8 31.2L212.2 36.2L206.3 42.3L202.3 49.4L199.7 57.0L197.6 66.0L196.6 76.0L196.0 87.5L202.5 87.5L204.5 76.0L207.5 66.0L211.2 57.0L214.2 50.4L220.3 44.3L228.4 37.2L231.0 28.0L234.0 20.0L235.5 17.4Z" fill="#000" filter="url(#spkw)" opacity="0.55"/>
<path d="M203 46L201.5 52L200.5 57" stroke="#fbf6f9" stroke-width="1.2" fill="none" stroke-linecap="round"/>
<path d="M226.4 28.1L223 33.5L219.5 38.5L217.3 42.3" stroke="#fbf6f9" stroke-width="1.8" fill="none" stroke-linecap="round"/>
<path d="M201 69.2L204 68L206.3 70L205.5 72.5L202 72Z M207.5 56L209.5 55L210 58L208 59Z M199.5 78L202 77L202.5 81L200 82Z M203.5 61L205.5 60.5L205.8 64L203.8 64.5Z M211 47.5L213 47L212.5 50L210.8 50.3Z" fill="#f7eef4"/>
<path d="M222 27L226 24L228 27L224 31Z M214 40L218 37.5L219 41L215 43Z M204 50L207 48.5L207.5 52L204.5 53Z" fill="#8f1a50" opacity="0.7"/>
<path d="M222.3 17.4L217.3 25.1L215.2 31.2L208.2 36.2L203.1 42.3L200.1 49.4L198.5 57.0L197.0 66.0L196.0 76.0L195.4 87.5" stroke="#8e2c66" stroke-width="0.7" fill="none"/>
<path d="M208.80 22.80L213.01 28.98" stroke="#111" stroke-width="1.15"/><path d="M215.20 32.20L209.40 29.37L212.84 28.73L214.69 25.77Z" fill="#111"/>
<path d="M189.00 59.60L195.54 58.68" stroke="#111" stroke-width="1.15"/><path d="M199.70 58.10L194.23 62.30L195.24 58.72L193.29 55.57Z" fill="#111"/>
<text x="183.7" y="81.6" font-size="3.7" fill="#222">100 µm</text>
<path d="M183.7 83.5H196.3" stroke="#111" stroke-width="0.8"/>
<text x="184.0" y="30.0" font-size="10.6" font-weight="bold" stroke="#000" stroke-width="0.45" fill="#000" textLength="8.0" lengthAdjust="spacingAndGlyphs">C</text>
</g>
<rect x="181.2" y="17.4" width="91.9" height="69.3" fill="none" stroke="#4a4a4a" stroke-width="1"/>
<!-- ============ PANEL D ============ -->
<g clip-path="url(#cD)">
<rect x="289" y="17" width="93" height="71" fill="#e4cce0"/>
<rect x="289" y="17" width="93" height="71" fill="#000" filter="url(#mot)" opacity="0.45"/>
<rect x="289" y="17" width="93" height="71" fill="#000" filter="url(#motw)" opacity="0.35"/>
<g fill="#b07aa8" opacity="0.4"><circle cx="298.2" cy="83.6" r="0.44"/><circle cx="357.3" cy="76.0" r="0.59"/><circle cx="317.5" cy="42.3" r="0.58"/><circle cx="377.9" cy="63.7" r="0.54"/><circle cx="325.3" cy="46.0" r="0.58"/><circle cx="329.0" cy="54.9" r="0.56"/><circle cx="347.6" cy="20.8" r="0.46"/><circle cx="354.2" cy="57.4" r="0.61"/><circle cx="294.8" cy="34.0" r="0.53"/><circle cx="358.0" cy="31.5" r="0.59"/><circle cx="327.3" cy="39.1" r="0.61"/><circle cx="299.7" cy="82.4" r="0.48"/><circle cx="323.0" cy="32.0" r="0.52"/><circle cx="366.6" cy="33.3" r="0.54"/><circle cx="330.1" cy="38.8" r="0.43"/><circle cx="353.5" cy="46.6" r="0.52"/><circle cx="344.8" cy="25.4" r="0.60"/><circle cx="371.1" cy="35.5" r="0.60"/><circle cx="353.6" cy="38.6" r="0.47"/><circle cx="297.6" cy="46.6" r="0.51"/><circle cx="334.3" cy="51.2" r="0.54"/><circle cx="301.4" cy="33.5" r="0.54"/><circle cx="333.0" cy="30.0" r="0.47"/><circle cx="379.1" cy="73.1" r="0.58"/><circle cx="322.3" cy="46.9" r="0.58"/><circle cx="341.1" cy="62.2" r="0.41"/><circle cx="354.8" cy="31.8" r="0.48"/><circle cx="338.3" cy="83.5" r="0.50"/><circle cx="348.8" cy="32.4" r="0.63"/><circle cx="312.5" cy="55.3" r="0.57"/><circle cx="353.6" cy="48.7" r="0.56"/><circle cx="290.9" cy="86.0" r="0.54"/><circle cx="344.2" cy="35.6" r="0.52"/><circle cx="348.5" cy="46.5" r="0.43"/><circle cx="307.9" cy="78.3" r="0.45"/><circle cx="336.8" cy="67.1" r="0.46"/><circle cx="363.5" cy="50.8" r="0.64"/><circle cx="308.6" cy="47.3" r="0.49"/><circle cx="314.9" cy="47.4" r="0.51"/><circle cx="325.9" cy="77.9" r="0.48"/><circle cx="295.1" cy="69.8" r="0.51"/><circle cx="292.3" cy="70.1" r="0.58"/><circle cx="349.6" cy="74.6" r="0.47"/><circle cx="366.5" cy="43.1" r="0.61"/><circle cx="380.9" cy="56.2" r="0.51"/><circle cx="356.9" cy="67.6" r="0.53"/><circle cx="297.4" cy="42.5" r="0.57"/><circle cx="291.3" cy="46.2" r="0.63"/><circle cx="355.1" cy="36.0" r="0.43"/><circle cx="342.0" cy="60.4" r="0.47"/><circle cx="336.9" cy="86.4" r="0.56"/><circle cx="339.4" cy="22.3" r="0.52"/><circle cx="292.0" cy="84.5" r="0.53"/><circle cx="344.7" cy="65.0" r="0.41"/><circle cx="364.7" cy="66.2" r="0.42"/><circle cx="373.2" cy="77.8" r="0.65"/><circle cx="298.4" cy="81.2" r="0.59"/><circle cx="313.1" cy="23.5" r="0.57"/><circle cx="295.7" cy="55.8" r="0.60"/><circle cx="326.1" cy="41.0" r="0.50"/><circle cx="300.4" cy="22.3" r="0.54"/><circle cx="364.5" cy="86.4" r="0.43"/><circle cx="317.6" cy="74.4" r="0.47"/><circle cx="359.9" cy="82.9" r="0.61"/><circle cx="346.8" cy="68.3" r="0.61"/><circle cx="302.8" cy="41.2" r="0.58"/><circle cx="333.5" cy="71.1" r="0.64"/><circle cx="355.9" cy="58.7" r="0.58"/><circle cx="374.4" cy="24.8" r="0.41"/><circle cx="362.1" cy="76.8" r="0.56"/><circle cx="331.5" cy="36.4" r="0.65"/><circle cx="354.2" cy="86.0" r="0.57"/><circle cx="367.8" cy="33.9" r="0.58"/><circle cx="298.8" cy="40.6" r="0.51"/><circle cx="337.6" cy="86.5" r="0.56"/><circle cx="299.8" cy="73.0" r="0.59"/><circle cx="365.5" cy="82.5" r="0.60"/><circle cx="337.1" cy="63.9" r="0.41"/><circle cx="324.1" cy="46.2" r="0.58"/><circle cx="295.6" cy="32.2" r="0.46"/><circle cx="308.3" cy="50.6" r="0.65"/><circle cx="319.9" cy="22.7" r="0.40"/><circle cx="357.9" cy="45.2" r="0.65"/><circle cx="312.7" cy="85.2" r="0.48"/><circle cx="379.0" cy="82.3" r="0.50"/><circle cx="298.1" cy="60.8" r="0.55"/><circle cx="347.9" cy="27.9" r="0.61"/><circle cx="321.4" cy="39.9" r="0.42"/><circle cx="291.9" cy="49.0" r="0.43"/><circle cx="318.0" cy="68.9" r="0.59"/><circle cx="330.5" cy="33.5" r="0.56"/><circle cx="325.0" cy="85.9" r="0.59"/><circle cx="368.1" cy="36.7" r="0.59"/><circle cx="328.5" cy="35.5" r="0.43"/><circle cx="336.6" cy="62.8" r="0.46"/><circle cx="298.7" cy="58.5" r="0.53"/><circle cx="355.7" cy="77.8" r="0.44"/><circle cx="378.6" cy="38.0" r="0.59"/><circle cx="311.4" cy="70.5" r="0.49"/><circle cx="337.6" cy="78.8" r="0.59"/><circle cx="359.1" cy="81.2" r="0.50"/><circle cx="312.8" cy="75.2" r="0.55"/><circle cx="314.8" cy="85.8" r="0.62"/><circle cx="362.8" cy="49.8" r="0.60"/><circle cx="326.2" cy="38.0" r="0.60"/><circle cx="345.2" cy="69.2" r="0.42"/><circle cx="337.6" cy="46.8" r="0.41"/><circle cx="366.8" cy="49.3" r="0.52"/><circle cx="342.6" cy="60.9" r="0.43"/><circle cx="308.1" cy="24.8" r="0.56"/><circle cx="305.4" cy="65.9" r="0.60"/><circle cx="358.1" cy="85.8" r="0.53"/><circle cx="339.0" cy="57.9" r="0.55"/><circle cx="337.3" cy="35.9" r="0.58"/><circle cx="359.5" cy="41.9" r="0.42"/><circle cx="343.3" cy="35.1" r="0.48"/><circle cx="369.7" cy="72.8" r="0.64"/><circle cx="343.0" cy="68.0" r="0.46"/><circle cx="346.9" cy="55.9" r="0.45"/><circle cx="348.0" cy="62.0" r="0.45"/><circle cx="361.1" cy="37.1" r="0.62"/><circle cx="315.2" cy="79.2" r="0.59"/><circle cx="318.0" cy="28.9" r="0.53"/><circle cx="323.7" cy="60.0" r="0.52"/><circle cx="292.9" cy="38.0" r="0.54"/><circle cx="353.0" cy="35.2" r="0.54"/><circle cx="308.0" cy="69.6" r="0.56"/><circle cx="317.7" cy="27.3" r="0.65"/><circle cx="306.0" cy="57.1" r="0.44"/><circle cx="315.2" cy="30.8" r="0.62"/><circle cx="336.9" cy="25.4" r="0.41"/><circle cx="344.5" cy="34.7" r="0.59"/><circle cx="345.5" cy="64.0" r="0.44"/><circle cx="309.8" cy="72.4" r="0.65"/><circle cx="333.3" cy="50.1" r="0.52"/><circle cx="300.0" cy="30.1" r="0.42"/><circle cx="299.0" cy="42.2" r="0.44"/><circle cx="377.1" cy="72.2" r="0.64"/><circle cx="292.3" cy="74.2" r="0.59"/><circle cx="355.4" cy="21.6" r="0.64"/><circle cx="379.8" cy="61.7" r="0.58"/><circle cx="308.3" cy="76.1" r="0.42"/><circle cx="345.7" cy="79.2" r="0.48"/><circle cx="331.5" cy="63.7" r="0.40"/><circle cx="307.7" cy="72.5" r="0.64"/><circle cx="302.2" cy="28.8" r="0.41"/><circle cx="358.6" cy="85.6" r="0.41"/><circle cx="360.0" cy="56.6" r="0.46"/><circle cx="352.1" cy="51.5" r="0.45"/><circle cx="310.7" cy="36.0" r="0.43"/><circle cx="324.4" cy="65.4" r="0.42"/><circle cx="334.9" cy="82.4" r="0.51"/><circle cx="299.4" cy="72.1" r="0.61"/><circle cx="299.8" cy="74.3" r="0.62"/><circle cx="355.3" cy="83.1" r="0.59"/><circle cx="354.1" cy="27.6" r="0.63"/><circle cx="367.5" cy="42.4" r="0.53"/><circle cx="355.1" cy="31.8" r="0.48"/><circle cx="309.2" cy="78.0" r="0.48"/><circle cx="299.5" cy="79.5" r="0.59"/></g>
<path d="M362 18H381.6V40L376 34L370 28L365 22Z" fill="#ecdcea" opacity="0.6"/>
<path d="M289.3 43L296 49L303.8 56.5L309.9 61.5L313.5 67.5L316.5 76.5L318.5 88H289.3Z" fill="#dfa2b3"/>
<path d="M289.3 43L296 49L303.8 56.5L309.9 61.5L313.5 67.5L316.5 76.5L318.5 88H289.3Z" fill="#000" filter="url(#motw)" opacity="0.6"/>
<clipPath id="cDh"><path d="M289.3 43L296 49L303.8 56.5L309.9 61.5L313.5 67.5L316.5 76.5L318.5 88H289.3Z"/></clipPath>
<g clip-path="url(#cDh)"><g fill="#c8607e" opacity="0.5"><circle cx="291.1" cy="62.6" r="0.60"/><circle cx="302.4" cy="54.5" r="0.84"/><circle cx="305.8" cy="76.5" r="0.87"/><circle cx="303.8" cy="64.1" r="0.55"/><circle cx="312.5" cy="46.1" r="0.65"/><circle cx="294.0" cy="75.8" r="0.68"/><circle cx="304.1" cy="66.8" r="0.84"/><circle cx="318.4" cy="59.7" r="0.85"/><circle cx="310.3" cy="74.4" r="0.89"/><circle cx="295.2" cy="57.3" r="0.69"/><circle cx="298.2" cy="56.1" r="0.58"/><circle cx="316.6" cy="86.7" r="0.85"/><circle cx="312.8" cy="61.3" r="0.62"/><circle cx="301.1" cy="43.8" r="0.55"/><circle cx="303.2" cy="61.7" r="0.76"/><circle cx="305.8" cy="47.5" r="0.84"/><circle cx="301.8" cy="64.5" r="0.65"/><circle cx="300.0" cy="84.4" r="0.89"/><circle cx="294.5" cy="84.3" r="0.82"/><circle cx="313.7" cy="55.7" r="0.86"/><circle cx="306.5" cy="63.6" r="0.51"/><circle cx="304.5" cy="50.9" r="0.62"/><circle cx="315.0" cy="58.5" r="0.83"/><circle cx="300.0" cy="48.2" r="0.66"/><circle cx="294.0" cy="49.9" r="0.77"/><circle cx="309.9" cy="51.2" r="0.79"/><circle cx="305.1" cy="47.5" r="0.54"/><circle cx="310.1" cy="84.0" r="0.83"/><circle cx="307.0" cy="46.0" r="0.80"/><circle cx="290.9" cy="78.1" r="0.54"/><circle cx="318.2" cy="64.7" r="0.59"/><circle cx="292.0" cy="54.9" r="0.78"/><circle cx="297.1" cy="46.5" r="0.80"/><circle cx="294.0" cy="50.6" r="0.58"/><circle cx="293.3" cy="54.0" r="0.53"/><circle cx="289.4" cy="48.4" r="0.66"/><circle cx="316.7" cy="80.6" r="0.72"/><circle cx="293.9" cy="84.8" r="0.61"/><circle cx="304.6" cy="68.2" r="0.67"/><circle cx="295.8" cy="83.4" r="0.54"/><circle cx="299.2" cy="74.1" r="0.61"/><circle cx="289.6" cy="46.7" r="0.79"/><circle cx="304.7" cy="59.3" r="0.84"/><circle cx="308.4" cy="51.9" r="0.58"/><circle cx="315.7" cy="61.3" r="0.72"/><circle cx="299.9" cy="85.3" r="0.74"/><circle cx="313.8" cy="61.3" r="0.77"/><circle cx="291.3" cy="48.6" r="0.62"/><circle cx="297.7" cy="85.9" r="0.59"/><circle cx="305.7" cy="82.2" r="0.71"/><circle cx="315.9" cy="74.9" r="0.80"/><circle cx="293.3" cy="56.7" r="0.85"/><circle cx="300.5" cy="77.3" r="0.75"/><circle cx="318.5" cy="67.5" r="0.88"/><circle cx="313.8" cy="74.7" r="0.88"/><circle cx="309.3" cy="63.2" r="0.83"/><circle cx="310.2" cy="68.3" r="0.80"/><circle cx="305.1" cy="83.2" r="0.71"/><circle cx="315.9" cy="63.2" r="0.82"/><circle cx="290.0" cy="85.6" r="0.55"/><circle cx="301.0" cy="55.2" r="0.83"/><circle cx="309.3" cy="62.2" r="0.53"/><circle cx="303.3" cy="82.2" r="0.85"/><circle cx="298.6" cy="87.3" r="0.62"/><circle cx="317.4" cy="47.9" r="0.52"/><circle cx="307.4" cy="57.1" r="0.75"/><circle cx="303.9" cy="52.0" r="0.86"/><circle cx="289.6" cy="56.5" r="0.73"/><circle cx="307.6" cy="57.6" r="0.61"/><circle cx="294.4" cy="80.1" r="0.66"/><circle cx="295.2" cy="82.7" r="0.81"/><circle cx="315.4" cy="68.1" r="0.90"/><circle cx="301.3" cy="83.6" r="0.88"/><circle cx="307.0" cy="65.8" r="0.75"/><circle cx="309.8" cy="54.0" r="0.90"/><circle cx="310.9" cy="85.1" r="0.84"/><circle cx="294.8" cy="44.3" r="0.60"/><circle cx="313.0" cy="85.7" r="0.60"/><circle cx="299.8" cy="43.3" r="0.64"/><circle cx="293.5" cy="71.7" r="0.75"/><circle cx="316.4" cy="48.4" r="0.61"/><circle cx="295.9" cy="71.8" r="0.68"/><circle cx="307.3" cy="43.3" r="0.58"/><circle cx="304.7" cy="74.2" r="0.81"/><circle cx="293.6" cy="67.0" r="0.60"/><circle cx="308.5" cy="82.7" r="0.57"/><circle cx="290.6" cy="57.4" r="0.85"/><circle cx="289.9" cy="47.3" r="0.65"/><circle cx="301.2" cy="81.9" r="0.51"/><circle cx="317.2" cy="56.3" r="0.89"/></g></g>
<path d="M289.8 41.5L296.5 47.5L303.8 55L310 60L314 66L317.2 76L319.6 88" stroke="#fbf4f8" stroke-width="1.8" fill="none"/>
<path d="M306 66L312 68L314 76L310 78L307 72Z M292 80L296 82L295 87.5L290 87.5Z" fill="#f7eef2" opacity="0.8"/>
<path d="M340 30L346 40L350 50L354 60L358 70L360 88" stroke="#f4e9f1" stroke-width="9" fill="none" opacity="0.5"/>
<path d="M321.5 27.8L328.5 26.8L335 26.2L339.5 27.5L340.6 33.2L343 37L345.3 41.2L347.3 49.3L350 57L354.5 65L356.5 72L357.3 80L357.8 88H362.5L362 80L361.8 72L361.5 65L357.5 57L354 49.3L350.7 41.2L346.5 33.2L343.5 27.5L340 24.8L335 24.2L328.5 24.8L321.5 26.2Z" fill="#fbf7fa"/>
<path d="M335.5 43.5L329 46.5L322 50.5L316 54.5L312.5 58.5L315.5 59.5L321 57L327 53.5L332 50L336 46.5Z" fill="#fbf7fa"/>
<path d="M368 37.5L370.5 42L373 48L374.8 54L376.2 60L377 66L377.6 72L379.2 71L378.8 63L378 56L376.5 49L374 42.5L370.5 37.5Z" fill="#fbf7fa"/>
<path d="M337 55.5L335 59.5L336.3 60L338.3 56Z" fill="#fbf7fa"/>
<path d="M326.10 40.40L322.50 34.30L326.10 36.00L329.70 34.30Z" fill="#111"/>
<path d="M353.20 63.80L354.44 56.83L356.06 60.46L359.90 61.51Z" fill="#111"/>
<path d="M338.50 81.00L339.42 73.98L341.21 77.53L345.09 78.41Z" fill="#111"/>
<path d="M302.00 45.50L299.22 59.18" stroke="#111" stroke-width="1.1"/><path d="M298.40 63.20L296.52 56.90L299.28 58.89L302.59 58.13Z" fill="#111"/>
<text x="364.8" y="81.3" font-size="3.7" fill="#222">150 µm</text>
<path d="M364.8 83.4H373.9" stroke="#111" stroke-width="0.8"/>
<text x="292.1" y="29.9" font-size="11" font-weight="bold" stroke="#000" stroke-width="0.45" fill="#000" textLength="9.4" lengthAdjust="spacingAndGlyphs">D</text>
</g>
<rect x="289.3" y="17.4" width="92.3" height="69.6" fill="none" stroke="#4a4a4a" stroke-width="1"/>
<!-- ============ PANEL E ============ -->
<g clip-path="url(#cE)">
<rect x="397" y="17" width="94" height="71" fill="#e0c9e4"/>
<rect x="397" y="17" width="94" height="71" fill="#000" filter="url(#mot)" opacity="0.8"/>
<rect x="397" y="17" width="94" height="71" fill="#000" filter="url(#motw)" opacity="0.55"/>
<path d="M476 17.3H491V40L487.5 34L484.5 27L480.5 21.5Z" fill="#f3edf3" opacity="0.9"/>
<path d="M419 75L430 66L441 57.5L452 49L462 41.5L472 33.5L480 26.5L487 20.5" stroke="#daa7c9" stroke-width="3.4" fill="none" opacity="0.4"/>
<path d="M421 74.5L433 64.5M442 56L450 49.5M461 41L468 35.5M474 30.5L483 22.5" stroke="#c98ab8" stroke-width="0.9" fill="none" opacity="0.8"/>
<path d="M423.3 71.6L433.4 63.5" stroke="#8d5b9e" stroke-width="1" fill="none"/>
<g fill="#8b58a8" opacity="0.65"><circle cx="455.3" cy="69.2" r="0.69"/><circle cx="484.7" cy="69.1" r="0.73"/><circle cx="400.7" cy="50.1" r="0.73"/><circle cx="457.7" cy="80.2" r="0.48"/><circle cx="441.2" cy="35.0" r="0.61"/><circle cx="450.8" cy="18.9" r="0.52"/><circle cx="423.7" cy="81.2" r="0.68"/><circle cx="412.7" cy="73.0" r="0.49"/><circle cx="454.8" cy="26.7" r="0.45"/><circle cx="478.2" cy="32.5" r="0.51"/><circle cx="488.4" cy="78.2" r="0.54"/><circle cx="486.5" cy="55.2" r="0.65"/><circle cx="416.8" cy="82.9" r="0.66"/><circle cx="486.9" cy="79.7" r="0.54"/><circle cx="431.2" cy="29.5" r="0.49"/><circle cx="404.0" cy="38.8" r="0.63"/><circle cx="398.3" cy="64.8" r="0.55"/><circle cx="426.5" cy="74.5" r="0.59"/><circle cx="427.1" cy="51.2" r="0.66"/><circle cx="403.2" cy="85.3" r="0.46"/><circle cx="467.0" cy="76.3" r="0.46"/><circle cx="470.5" cy="43.3" r="0.62"/><circle cx="398.8" cy="21.2" r="0.50"/><circle cx="485.9" cy="31.6" r="0.68"/><circle cx="483.5" cy="83.0" r="0.55"/><circle cx="430.6" cy="54.2" r="0.68"/><circle cx="407.9" cy="69.6" r="0.69"/><circle cx="477.1" cy="20.5" r="0.73"/><circle cx="406.4" cy="41.5" r="0.63"/><circle cx="482.5" cy="41.5" r="0.73"/><circle cx="448.2" cy="39.6" r="0.55"/><circle cx="414.3" cy="23.4" r="0.49"/><circle cx="461.4" cy="86.8" r="0.50"/><circle cx="402.5" cy="86.1" r="0.61"/><circle cx="435.3" cy="34.4" r="0.63"/><circle cx="474.0" cy="49.4" r="0.58"/><circle cx="403.1" cy="81.2" r="0.46"/><circle cx="443.4" cy="75.9" r="0.49"/><circle cx="465.3" cy="83.5" r="0.64"/><circle cx="470.5" cy="25.4" r="0.58"/><circle cx="411.7" cy="76.3" r="0.54"/><circle cx="439.7" cy="87.0" r="0.71"/><circle cx="487.8" cy="49.3" r="0.60"/><circle cx="465.1" cy="51.1" r="0.54"/><circle cx="435.1" cy="28.1" r="0.56"/><circle cx="488.9" cy="84.2" r="0.64"/><circle cx="443.9" cy="41.4" r="0.48"/><circle cx="423.1" cy="72.0" r="0.71"/><circle cx="431.2" cy="72.2" r="0.68"/><circle cx="461.9" cy="63.8" r="0.68"/><circle cx="431.4" cy="66.6" r="0.53"/><circle cx="442.7" cy="71.1" r="0.66"/><circle cx="425.0" cy="83.2" r="0.64"/><circle cx="451.4" cy="18.8" r="0.61"/><circle cx="421.1" cy="64.3" r="0.59"/><circle cx="473.1" cy="62.7" r="0.69"/><circle cx="430.0" cy="62.4" r="0.67"/><circle cx="474.2" cy="42.2" r="0.70"/><circle cx="478.0" cy="65.5" r="0.74"/><circle cx="486.0" cy="53.8" r="0.61"/><circle cx="413.3" cy="75.7" r="0.73"/><circle cx="441.9" cy="65.7" r="0.67"/><circle cx="465.2" cy="29.9" r="0.68"/><circle cx="451.4" cy="63.9" r="0.58"/><circle cx="455.4" cy="71.5" r="0.64"/><circle cx="464.3" cy="19.9" r="0.50"/><circle cx="438.6" cy="62.9" r="0.52"/><circle cx="461.1" cy="61.5" r="0.46"/><circle cx="441.4" cy="33.6" r="0.47"/><circle cx="410.3" cy="39.9" r="0.50"/><circle cx="415.8" cy="20.5" r="0.59"/><circle cx="433.0" cy="60.2" r="0.63"/><circle cx="419.9" cy="80.3" r="0.45"/><circle cx="435.3" cy="37.2" r="0.57"/><circle cx="408.6" cy="75.4" r="0.56"/><circle cx="401.3" cy="60.3" r="0.48"/><circle cx="448.2" cy="41.4" r="0.62"/><circle cx="486.2" cy="74.5" r="0.58"/><circle cx="472.8" cy="62.3" r="0.56"/><circle cx="411.1" cy="59.1" r="0.62"/><circle cx="486.1" cy="84.8" r="0.63"/><circle cx="430.3" cy="79.6" r="0.45"/><circle cx="407.9" cy="57.0" r="0.63"/><circle cx="410.9" cy="61.4" r="0.72"/><circle cx="432.6" cy="47.8" r="0.52"/><circle cx="424.8" cy="85.1" r="0.56"/><circle cx="486.4" cy="81.0" r="0.63"/><circle cx="421.9" cy="85.7" r="0.60"/><circle cx="436.2" cy="40.0" r="0.75"/><circle cx="443.2" cy="37.8" r="0.59"/><circle cx="409.2" cy="60.9" r="0.58"/><circle cx="425.0" cy="71.9" r="0.70"/><circle cx="399.2" cy="54.7" r="0.53"/><circle cx="484.0" cy="72.0" r="0.52"/><circle cx="422.6" cy="28.7" r="0.75"/><circle cx="425.0" cy="60.0" r="0.59"/><circle cx="457.3" cy="59.7" r="0.67"/><circle cx="408.9" cy="70.5" r="0.54"/><circle cx="447.1" cy="41.2" r="0.54"/><circle cx="446.7" cy="50.0" r="0.56"/><circle cx="466.5" cy="58.8" r="0.46"/><circle cx="421.2" cy="49.4" r="0.72"/><circle cx="479.7" cy="55.6" r="0.45"/><circle cx="469.6" cy="47.5" r="0.62"/><circle cx="463.2" cy="61.6" r="0.59"/><circle cx="481.9" cy="44.6" r="0.57"/><circle cx="476.4" cy="31.6" r="0.54"/><circle cx="474.4" cy="22.6" r="0.70"/><circle cx="461.9" cy="47.9" r="0.54"/><circle cx="469.8" cy="80.8" r="0.49"/><circle cx="442.0" cy="55.9" r="0.60"/><circle cx="428.4" cy="28.6" r="0.63"/><circle cx="472.7" cy="22.7" r="0.52"/><circle cx="473.4" cy="72.6" r="0.65"/><circle cx="400.4" cy="67.9" r="0.74"/><circle cx="489.8" cy="66.4" r="0.46"/><circle cx="475.5" cy="33.1" r="0.64"/><circle cx="485.6" cy="67.2" r="0.49"/><circle cx="424.9" cy="81.3" r="0.49"/><circle cx="454.2" cy="46.6" r="0.50"/><circle cx="455.3" cy="21.0" r="0.48"/><circle cx="432.9" cy="23.0" r="0.47"/><circle cx="450.9" cy="69.2" r="0.71"/><circle cx="410.4" cy="47.8" r="0.54"/><circle cx="453.2" cy="51.8" r="0.73"/><circle cx="432.4" cy="21.8" r="0.66"/><circle cx="411.9" cy="61.6" r="0.60"/><circle cx="481.8" cy="56.3" r="0.64"/><circle cx="422.2" cy="56.1" r="0.53"/><circle cx="467.1" cy="53.7" r="0.49"/><circle cx="419.6" cy="43.6" r="0.67"/><circle cx="414.5" cy="67.2" r="0.65"/><circle cx="405.8" cy="64.1" r="0.48"/><circle cx="409.5" cy="59.0" r="0.52"/><circle cx="478.7" cy="51.2" r="0.55"/><circle cx="471.3" cy="20.0" r="0.67"/><circle cx="402.9" cy="28.4" r="0.74"/><circle cx="460.7" cy="33.4" r="0.48"/><circle cx="487.5" cy="63.9" r="0.70"/><circle cx="410.9" cy="61.1" r="0.56"/><circle cx="419.6" cy="41.0" r="0.63"/><circle cx="430.1" cy="44.6" r="0.49"/><circle cx="474.5" cy="62.7" r="0.69"/><circle cx="437.9" cy="76.8" r="0.61"/><circle cx="452.5" cy="57.6" r="0.67"/><circle cx="434.4" cy="24.7" r="0.46"/><circle cx="416.6" cy="20.7" r="0.72"/><circle cx="442.3" cy="70.5" r="0.45"/><circle cx="441.3" cy="79.4" r="0.64"/><circle cx="437.4" cy="50.1" r="0.48"/><circle cx="412.2" cy="29.0" r="0.56"/><circle cx="433.5" cy="78.7" r="0.50"/><circle cx="421.4" cy="37.1" r="0.50"/><circle cx="424.4" cy="34.2" r="0.59"/><circle cx="401.0" cy="81.8" r="0.56"/><circle cx="484.3" cy="65.5" r="0.65"/><circle cx="441.4" cy="83.2" r="0.49"/><circle cx="459.5" cy="38.1" r="0.65"/><circle cx="465.1" cy="29.3" r="0.51"/><circle cx="400.3" cy="33.9" r="0.47"/><circle cx="434.9" cy="85.2" r="0.56"/><circle cx="426.7" cy="50.3" r="0.53"/><circle cx="465.4" cy="67.5" r="0.50"/><circle cx="420.1" cy="64.4" r="0.73"/><circle cx="457.4" cy="47.7" r="0.74"/><circle cx="398.6" cy="22.2" r="0.68"/><circle cx="435.7" cy="21.1" r="0.61"/><circle cx="489.0" cy="53.8" r="0.56"/><circle cx="406.6" cy="22.9" r="0.72"/><circle cx="443.2" cy="82.6" r="0.47"/></g>
<g fill="#ffffff" opacity="0.55"><circle cx="418.9" cy="84.4" r="0.55"/><circle cx="462.8" cy="23.9" r="0.60"/><circle cx="489.9" cy="32.4" r="0.76"/><circle cx="440.2" cy="49.3" r="0.70"/><circle cx="415.7" cy="75.3" r="0.54"/><circle cx="419.5" cy="19.4" r="0.61"/><circle cx="435.5" cy="80.2" r="0.65"/><circle cx="408.5" cy="35.8" r="0.90"/><circle cx="403.8" cy="60.8" r="0.65"/><circle cx="458.8" cy="41.4" r="0.78"/><circle cx="443.8" cy="62.8" r="0.86"/><circle cx="451.5" cy="27.8" r="0.53"/><circle cx="485.0" cy="51.7" r="0.58"/><circle cx="485.0" cy="57.9" r="0.79"/><circle cx="479.0" cy="37.7" r="0.64"/><circle cx="478.8" cy="27.3" r="0.81"/><circle cx="407.0" cy="65.6" r="0.78"/><circle cx="485.4" cy="76.2" r="0.70"/><circle cx="416.2" cy="28.4" r="0.71"/><circle cx="444.9" cy="22.9" r="0.86"/><circle cx="444.7" cy="66.4" r="0.59"/><circle cx="420.4" cy="18.8" r="0.64"/><circle cx="422.5" cy="47.2" r="0.65"/><circle cx="474.8" cy="79.5" r="0.57"/><circle cx="434.5" cy="29.5" r="0.77"/><circle cx="487.7" cy="31.9" r="0.81"/><circle cx="425.6" cy="18.9" r="0.81"/><circle cx="429.4" cy="29.7" r="0.67"/><circle cx="419.3" cy="46.3" r="0.68"/><circle cx="436.5" cy="58.6" r="0.62"/><circle cx="406.8" cy="23.9" r="0.54"/><circle cx="445.9" cy="42.9" r="0.82"/><circle cx="444.5" cy="66.9" r="0.89"/><circle cx="403.8" cy="19.2" r="0.56"/><circle cx="433.5" cy="57.6" r="0.80"/><circle cx="430.3" cy="84.6" r="0.50"/><circle cx="474.9" cy="32.5" r="0.85"/><circle cx="401.0" cy="84.6" r="0.80"/><circle cx="489.1" cy="58.0" r="0.57"/><circle cx="487.2" cy="48.5" r="0.53"/><circle cx="453.7" cy="52.3" r="0.69"/><circle cx="412.2" cy="26.4" r="0.73"/><circle cx="439.6" cy="26.7" r="0.68"/><circle cx="464.7" cy="67.4" r="0.69"/><circle cx="434.2" cy="42.9" r="0.59"/><circle cx="416.2" cy="48.8" r="0.54"/><circle cx="464.7" cy="66.9" r="0.74"/><circle cx="400.1" cy="43.1" r="0.67"/><circle cx="406.6" cy="84.8" r="0.80"/><circle cx="444.2" cy="66.7" r="0.58"/><circle cx="419.1" cy="54.3" r="0.80"/><circle cx="457.5" cy="18.5" r="0.75"/><circle cx="481.6" cy="69.3" r="0.87"/><circle cx="488.3" cy="33.4" r="0.62"/><circle cx="448.4" cy="85.4" r="0.65"/><circle cx="484.6" cy="76.7" r="0.71"/><circle cx="455.5" cy="84.0" r="0.81"/><circle cx="425.2" cy="76.4" r="0.58"/><circle cx="432.0" cy="84.1" r="0.84"/><circle cx="426.7" cy="38.0" r="0.75"/><circle cx="475.5" cy="65.2" r="0.87"/><circle cx="465.0" cy="74.6" r="0.74"/><circle cx="431.3" cy="47.5" r="0.70"/><circle cx="446.7" cy="75.8" r="0.61"/><circle cx="404.3" cy="68.6" r="0.61"/><circle cx="436.6" cy="26.1" r="0.83"/><circle cx="423.2" cy="38.1" r="0.82"/><circle cx="444.4" cy="37.1" r="0.86"/><circle cx="435.9" cy="42.9" r="0.89"/><circle cx="470.7" cy="69.6" r="0.60"/><circle cx="472.8" cy="59.2" r="0.83"/><circle cx="431.9" cy="71.9" r="0.82"/><circle cx="433.7" cy="63.2" r="0.81"/><circle cx="489.4" cy="81.5" r="0.81"/><circle cx="410.6" cy="60.1" r="0.77"/><circle cx="406.0" cy="49.9" r="0.85"/><circle cx="481.3" cy="81.8" r="0.54"/><circle cx="453.9" cy="77.7" r="0.76"/><circle cx="427.4" cy="20.7" r="0.87"/><circle cx="477.0" cy="63.1" r="0.65"/><circle cx="474.2" cy="74.2" r="0.79"/><circle cx="453.2" cy="40.0" r="0.62"/><circle cx="430.9" cy="40.5" r="0.71"/><circle cx="408.5" cy="67.8" r="0.64"/><circle cx="412.7" cy="35.6" r="0.66"/><circle cx="437.7" cy="72.0" r="0.54"/><circle cx="418.5" cy="38.2" r="0.57"/><circle cx="466.9" cy="25.5" r="0.52"/><circle cx="449.1" cy="68.8" r="0.83"/><circle cx="449.5" cy="40.5" r="0.85"/><circle cx="465.7" cy="51.0" r="0.73"/><circle cx="484.1" cy="86.8" r="0.87"/><circle cx="410.2" cy="40.6" r="0.66"/><circle cx="413.5" cy="70.6" r="0.52"/><circle cx="479.6" cy="58.4" r="0.75"/><circle cx="436.2" cy="82.6" r="0.73"/><circle cx="480.5" cy="81.7" r="0.78"/><circle cx="488.5" cy="51.8" r="0.65"/><circle cx="475.6" cy="54.4" r="0.62"/><circle cx="460.6" cy="50.8" r="0.55"/><circle cx="475.1" cy="52.5" r="0.89"/><circle cx="447.1" cy="82.6" r="0.62"/><circle cx="418.0" cy="54.3" r="0.81"/><circle cx="473.9" cy="62.7" r="0.55"/><circle cx="434.3" cy="20.4" r="0.65"/><circle cx="484.9" cy="41.9" r="0.78"/><circle cx="455.2" cy="27.9" r="0.78"/><circle cx="405.3" cy="30.7" r="0.73"/><circle cx="409.7" cy="84.5" r="0.67"/><circle cx="456.0" cy="84.6" r="0.54"/><circle cx="489.9" cy="20.7" r="0.74"/><circle cx="458.3" cy="86.0" r="0.64"/><circle cx="485.1" cy="62.9" r="0.69"/><circle cx="413.6" cy="34.3" r="0.65"/><circle cx="429.9" cy="43.7" r="0.82"/><circle cx="432.5" cy="61.4" r="0.52"/><circle cx="410.9" cy="67.0" r="0.86"/><circle cx="426.8" cy="20.2" r="0.59"/><circle cx="431.2" cy="43.3" r="0.72"/><circle cx="425.8" cy="62.6" r="0.81"/></g>
<path d="M455.40 34.60L449.30 38.20L451.00 34.60L449.30 31.00Z" fill="#111"/>
<path d="M481.60 35.40L478.32 29.12L481.83 31.01L485.51 29.50Z" fill="#111"/>
<path d="M454.40 52.60L459.71 57.29L455.76 56.78L452.86 59.51Z" fill="#111"/>
<text x="399.8" y="81.3" font-size="3.7" fill="#222">50 µm</text>
<path d="M399.8 83.4H407.6" stroke="#111" stroke-width="0.8"/>
<text x="400.4" y="30.0" font-size="11" font-weight="bold" stroke="#000" stroke-width="0.45" fill="#000" textLength="7.0" lengthAdjust="spacingAndGlyphs">E</text>
</g>
<rect x="397.9" y="17.3" width="92.3" height="69.8" fill="none" stroke="#4a4a4a" stroke-width="1"/>
<!-- ============ PANEL F ============ -->
<g clip-path="url(#cF)">
<rect x="181" y="113" width="94" height="71" fill="#f6f4f6"/>
<path d="M181.0 113.0L272.8 113.0L271.5 124.0L270.0 131.0L268.0 139.0L265.5 148.4L263.2 157.5L261.0 166.6L259.0 175.0L257.3 183.5L181.0 183.5Z" fill="#e1d2e7"/>
<path d="M181.0 113.0L272.8 113.0L271.5 124.0L270.0 131.0L268.0 139.0L265.5 148.4L263.2 157.5L261.0 166.6L259.0 175.0L257.3 183.5L181.0 183.5Z" fill="#000" filter="url(#mot)" opacity="0.4"/>
<path d="M181.0 113.0L272.8 113.0L271.5 124.0L270.0 131.0L268.0 139.0L265.5 148.4L263.2 157.5L261.0 166.6L259.0 175.0L257.3 183.5L181.0 183.5Z" fill="#000" filter="url(#motw)" opacity="0.3"/>
<g fill="#8f62a8" opacity="0.35"><circle cx="196.5" cy="160.9" r="0.56"/><circle cx="224.2" cy="128.7" r="0.60"/><circle cx="253.1" cy="148.8" r="0.53"/><circle cx="202.8" cy="114.2" r="0.49"/><circle cx="233.5" cy="118.7" r="0.60"/><circle cx="202.4" cy="129.8" r="0.41"/><circle cx="259.0" cy="155.9" r="0.41"/><circle cx="210.9" cy="147.8" r="0.43"/><circle cx="195.6" cy="169.6" r="0.43"/><circle cx="263.7" cy="144.8" r="0.54"/><circle cx="212.2" cy="147.0" r="0.45"/><circle cx="185.3" cy="172.9" r="0.46"/><circle cx="250.7" cy="128.2" r="0.64"/><circle cx="249.1" cy="153.5" r="0.58"/><circle cx="192.8" cy="146.4" r="0.61"/><circle cx="199.7" cy="176.8" r="0.62"/><circle cx="218.0" cy="138.8" r="0.51"/><circle cx="215.9" cy="181.6" r="0.50"/><circle cx="184.4" cy="120.3" r="0.58"/><circle cx="225.3" cy="151.4" r="0.59"/><circle cx="201.5" cy="155.4" r="0.54"/><circle cx="236.8" cy="126.3" r="0.44"/><circle cx="212.6" cy="177.0" r="0.49"/><circle cx="234.6" cy="134.8" r="0.43"/><circle cx="187.8" cy="169.3" r="0.59"/><circle cx="215.0" cy="160.5" r="0.57"/><circle cx="217.8" cy="181.3" r="0.64"/><circle cx="234.0" cy="174.1" r="0.52"/><circle cx="215.0" cy="130.8" r="0.62"/><circle cx="196.3" cy="118.7" r="0.60"/><circle cx="250.1" cy="146.9" r="0.61"/><circle cx="186.6" cy="131.5" r="0.47"/><circle cx="218.9" cy="125.6" r="0.42"/><circle cx="211.8" cy="175.1" r="0.65"/><circle cx="247.6" cy="146.6" r="0.46"/><circle cx="246.1" cy="115.9" r="0.45"/><circle cx="255.8" cy="168.1" r="0.62"/><circle cx="234.9" cy="143.0" r="0.55"/><circle cx="256.7" cy="134.9" r="0.53"/><circle cx="206.3" cy="166.2" r="0.40"/><circle cx="242.3" cy="178.9" r="0.41"/><circle cx="234.2" cy="157.8" r="0.61"/><circle cx="233.4" cy="131.5" r="0.50"/><circle cx="193.8" cy="120.4" r="0.42"/><circle cx="184.2" cy="144.4" r="0.44"/><circle cx="258.3" cy="158.6" r="0.43"/><circle cx="229.4" cy="136.1" r="0.52"/><circle cx="201.3" cy="125.3" r="0.45"/><circle cx="215.2" cy="162.3" r="0.54"/><circle cx="186.1" cy="162.3" r="0.62"/><circle cx="250.1" cy="167.8" r="0.40"/><circle cx="222.8" cy="118.3" r="0.59"/><circle cx="197.4" cy="162.4" r="0.46"/><circle cx="243.3" cy="135.3" r="0.41"/><circle cx="216.2" cy="135.0" r="0.63"/><circle cx="208.0" cy="148.2" r="0.54"/><circle cx="265.4" cy="120.7" r="0.55"/><circle cx="226.7" cy="164.0" r="0.64"/><circle cx="209.3" cy="161.6" r="0.53"/><circle cx="231.3" cy="118.3" r="0.60"/><circle cx="210.0" cy="181.5" r="0.43"/><circle cx="188.7" cy="119.0" r="0.60"/><circle cx="248.9" cy="144.5" r="0.56"/><circle cx="183.7" cy="157.8" r="0.51"/><circle cx="227.5" cy="140.5" r="0.50"/><circle cx="201.8" cy="117.3" r="0.51"/><circle cx="203.7" cy="161.9" r="0.60"/><circle cx="245.7" cy="145.0" r="0.46"/><circle cx="215.9" cy="147.1" r="0.56"/><circle cx="266.8" cy="119.8" r="0.52"/><circle cx="225.3" cy="162.8" r="0.62"/><circle cx="250.6" cy="156.6" r="0.59"/><circle cx="240.8" cy="172.4" r="0.57"/><circle cx="242.1" cy="130.7" r="0.63"/><circle cx="216.0" cy="155.8" r="0.61"/><circle cx="182.6" cy="135.3" r="0.48"/><circle cx="216.4" cy="123.9" r="0.54"/><circle cx="189.0" cy="134.6" r="0.64"/><circle cx="247.3" cy="145.4" r="0.43"/><circle cx="200.1" cy="136.8" r="0.56"/><circle cx="242.0" cy="131.7" r="0.64"/><circle cx="210.3" cy="131.3" r="0.61"/><circle cx="195.5" cy="160.3" r="0.45"/><circle cx="234.6" cy="132.9" r="0.49"/><circle cx="220.4" cy="156.0" r="0.47"/><circle cx="197.3" cy="140.2" r="0.47"/><circle cx="198.6" cy="179.3" r="0.41"/><circle cx="253.3" cy="177.6" r="0.58"/><circle cx="183.7" cy="148.1" r="0.41"/><circle cx="235.5" cy="161.6" r="0.46"/><circle cx="182.7" cy="151.0" r="0.42"/><circle cx="209.2" cy="144.9" r="0.62"/><circle cx="214.6" cy="123.2" r="0.60"/><circle cx="254.4" cy="150.0" r="0.41"/><circle cx="198.5" cy="141.4" r="0.54"/><circle cx="201.8" cy="168.6" r="0.61"/><circle cx="183.5" cy="153.6" r="0.42"/><circle cx="248.8" cy="126.8" r="0.41"/><circle cx="253.7" cy="155.2" r="0.56"/><circle cx="223.5" cy="168.4" r="0.48"/><circle cx="205.7" cy="138.0" r="0.47"/><circle cx="237.2" cy="174.5" r="0.42"/><circle cx="188.0" cy="148.8" r="0.57"/><circle cx="198.7" cy="132.4" r="0.41"/><circle cx="185.3" cy="147.7" r="0.57"/><circle cx="239.5" cy="124.8" r="0.43"/><circle cx="217.9" cy="161.0" r="0.58"/><circle cx="228.2" cy="119.3" r="0.61"/><circle cx="200.8" cy="116.8" r="0.49"/><circle cx="228.9" cy="156.7" r="0.44"/><circle cx="244.4" cy="147.6" r="0.44"/><circle cx="256.9" cy="168.9" r="0.63"/><circle cx="241.8" cy="128.8" r="0.59"/><circle cx="261.4" cy="150.3" r="0.63"/><circle cx="251.9" cy="114.8" r="0.49"/><circle cx="236.0" cy="155.3" r="0.59"/><circle cx="238.9" cy="125.0" r="0.63"/><circle cx="229.2" cy="174.0" r="0.45"/><circle cx="250.3" cy="164.3" r="0.62"/><circle cx="213.9" cy="119.6" r="0.50"/><circle cx="197.7" cy="150.7" r="0.60"/><circle cx="213.9" cy="122.9" r="0.41"/><circle cx="219.2" cy="153.5" r="0.41"/><circle cx="240.6" cy="128.3" r="0.43"/><circle cx="260.8" cy="148.9" r="0.43"/><circle cx="203.1" cy="142.8" r="0.56"/><circle cx="249.8" cy="165.1" r="0.56"/><circle cx="204.3" cy="143.2" r="0.49"/><circle cx="225.1" cy="132.1" r="0.53"/><circle cx="222.4" cy="116.4" r="0.61"/><circle cx="233.6" cy="168.6" r="0.58"/><circle cx="246.3" cy="181.6" r="0.49"/><circle cx="216.6" cy="114.3" r="0.57"/><circle cx="233.2" cy="153.2" r="0.65"/><circle cx="199.3" cy="129.5" r="0.58"/><circle cx="253.5" cy="146.8" r="0.41"/><circle cx="214.6" cy="170.2" r="0.52"/><circle cx="222.6" cy="140.5" r="0.56"/><circle cx="234.7" cy="161.1" r="0.62"/><circle cx="248.1" cy="139.5" r="0.46"/><circle cx="250.8" cy="167.9" r="0.63"/><circle cx="199.5" cy="171.6" r="0.62"/><circle cx="188.8" cy="134.9" r="0.56"/><circle cx="194.9" cy="170.5" r="0.47"/><circle cx="242.0" cy="134.1" r="0.45"/><circle cx="200.2" cy="147.8" r="0.58"/><circle cx="201.2" cy="160.7" r="0.48"/><circle cx="239.1" cy="139.0" r="0.45"/><circle cx="194.4" cy="117.9" r="0.57"/><circle cx="218.4" cy="122.4" r="0.62"/><circle cx="239.6" cy="115.4" r="0.58"/><circle cx="234.3" cy="144.2" r="0.53"/><circle cx="238.0" cy="157.2" r="0.49"/><circle cx="212.5" cy="165.3" r="0.56"/><circle cx="222.2" cy="148.9" r="0.46"/><circle cx="251.5" cy="115.4" r="0.56"/><circle cx="222.0" cy="129.1" r="0.55"/><circle cx="233.3" cy="119.9" r="0.52"/><circle cx="196.5" cy="168.3" r="0.48"/><circle cx="210.9" cy="128.6" r="0.41"/><circle cx="198.4" cy="124.3" r="0.56"/><circle cx="256.6" cy="129.0" r="0.43"/><circle cx="229.0" cy="121.9" r="0.50"/><circle cx="249.0" cy="127.8" r="0.57"/><circle cx="229.4" cy="119.8" r="0.46"/><circle cx="234.7" cy="120.5" r="0.45"/><circle cx="232.8" cy="169.6" r="0.53"/><circle cx="240.4" cy="114.6" r="0.48"/><circle cx="210.0" cy="176.1" r="0.49"/><circle cx="251.1" cy="116.3" r="0.52"/><circle cx="233.0" cy="126.4" r="0.63"/><circle cx="189.0" cy="179.6" r="0.59"/><circle cx="245.3" cy="150.1" r="0.44"/><circle cx="212.0" cy="159.1" r="0.56"/><circle cx="216.3" cy="168.5" r="0.41"/><circle cx="207.3" cy="120.1" r="0.48"/><circle cx="251.8" cy="165.2" r="0.44"/><circle cx="209.1" cy="121.6" r="0.57"/><circle cx="220.9" cy="129.7" r="0.49"/><circle cx="258.1" cy="142.9" r="0.57"/></g>
<path d="M270.3 113.0L269.0 124.0L267.5 131.0L265.5 139.0L263.0 148.4L260.7 157.5L258.5 166.6L256.5 175.0L254.8 183.5" stroke="#ebe0ee" stroke-width="4" fill="none" opacity="0.7"/>
<path d="M272.8 113.0L271.5 124.0L270.0 131.0L268.0 139.0L265.5 148.4L263.2 157.5L261.0 166.6L259.0 175.0L257.3 183.5" stroke="#dcb0cf" stroke-width="0.7" fill="none"/>
<path d="M266 150L267.5 160L268.5 170L269 178" stroke="#e2bcd6" stroke-width="0.6" fill="none"/>
<path d="M262.90 142.30L266.94 145.25" stroke="#111" stroke-width="1.1"/><path d="M269.60 147.20L263.95 146.79L266.69 145.07L267.50 141.94Z" fill="#111"/>
<path d="M271.40 178.10L265.95 172.24" stroke="#111" stroke-width="1.1"/><path d="M263.50 169.60L269.38 171.23L266.16 172.46L264.70 175.59Z" fill="#111"/>
<text x="185" y="177.6" font-size="3.7" fill="#222">100 µm</text>
<path d="M185 179.7H197.2" stroke="#111" stroke-width="0.8"/>
<text x="184.5" y="125.5" font-size="10.4" font-weight="bold" stroke="#000" stroke-width="0.45" fill="#000" textLength="6.3" lengthAdjust="spacingAndGlyphs">F</text>
</g>
<rect x="181.3" y="113.3" width="92.9" height="69.4" fill="none" stroke="#4a4a4a" stroke-width="1"/>
<!-- ============ PANEL G ============ -->
<g clip-path="url(#cG)">
<rect x="289" y="113" width="93" height="71" fill="#f6f4f6"/>
<path d="M289.3 113.3H357.2L364 119L370.6 125.4L376 131L381.6 139V165.8L377 166.5L376.4 172L378.5 174L381.6 174V183.5H359L348 180L336 177.3L325 174L314.8 171.5L305 170.5L297.5 169.6L293 162L289.3 154.2Z" fill="#e1cfe6"/>
<path d="M289.3 113.3H357.2L364 119L370.6 125.4L376 131L381.6 139V165.8L377 166.5L376.4 172L378.5 174L381.6 174V183.5H359L348 180L336 177.3L325 174L314.8 171.5L305 170.5L297.5 169.6L293 162L289.3 154.2Z" fill="#000" filter="url(#mot)" opacity="0.45"/>
<path d="M289.3 113.3H357.2L364 119L370.6 125.4L376 131L381.6 139V165.8L377 166.5L376.4 172L378.5 174L381.6 174V183.5H359L348 180L336 177.3L325 174L314.8 171.5L305 170.5L297.5 169.6L293 162L289.3 154.2Z" fill="#000" filter="url(#motw)" opacity="0.3"/>
<g clip-path="url(#cG)"><clipPath id="cGt"><path d="M289.3 113.3H357.2L364 119L370.6 125.4L376 131L381.6 139V165.8L377 166.5L376.4 172L378.5 174L381.6 174V183.5H359L348 180L336 177.3L325 174L314.8 171.5L305 170.5L297.5 169.6L293 162L289.3 154.2Z"/></clipPath><g clip-path="url(#cGt)">
<g fill="#8d5fa6" opacity="0.35"><circle cx="341.9" cy="157.0" r="0.60"/><circle cx="315.2" cy="158.3" r="0.62"/><circle cx="372.7" cy="126.7" r="0.56"/><circle cx="346.2" cy="148.2" r="0.64"/><circle cx="338.1" cy="144.3" r="0.64"/><circle cx="347.8" cy="134.5" r="0.48"/><circle cx="335.1" cy="117.6" r="0.55"/><circle cx="357.0" cy="143.0" r="0.61"/><circle cx="374.4" cy="151.8" r="0.57"/><circle cx="300.7" cy="117.8" r="0.65"/><circle cx="315.9" cy="128.5" r="0.62"/><circle cx="358.2" cy="122.4" r="0.48"/><circle cx="312.1" cy="132.5" r="0.40"/><circle cx="337.7" cy="134.7" r="0.50"/><circle cx="306.9" cy="121.5" r="0.41"/><circle cx="369.4" cy="164.8" r="0.54"/><circle cx="301.3" cy="124.1" r="0.43"/><circle cx="318.8" cy="117.9" r="0.47"/><circle cx="308.5" cy="127.1" r="0.56"/><circle cx="331.7" cy="146.2" r="0.49"/><circle cx="339.1" cy="167.4" r="0.48"/><circle cx="296.4" cy="146.7" r="0.49"/><circle cx="361.0" cy="121.5" r="0.62"/><circle cx="291.3" cy="150.9" r="0.51"/><circle cx="318.7" cy="174.4" r="0.58"/><circle cx="304.9" cy="147.7" r="0.55"/><circle cx="293.0" cy="119.9" r="0.55"/><circle cx="356.4" cy="145.5" r="0.51"/><circle cx="336.1" cy="131.7" r="0.62"/><circle cx="377.5" cy="146.8" r="0.41"/><circle cx="326.1" cy="168.6" r="0.48"/><circle cx="299.6" cy="126.6" r="0.58"/><circle cx="346.6" cy="133.5" r="0.56"/><circle cx="359.2" cy="179.7" r="0.61"/><circle cx="329.5" cy="169.1" r="0.63"/><circle cx="369.1" cy="165.0" r="0.55"/><circle cx="336.5" cy="171.8" r="0.56"/><circle cx="355.6" cy="129.5" r="0.42"/><circle cx="314.6" cy="153.7" r="0.54"/><circle cx="308.1" cy="126.8" r="0.64"/><circle cx="296.5" cy="177.0" r="0.59"/><circle cx="342.2" cy="181.7" r="0.57"/><circle cx="290.6" cy="177.9" r="0.50"/><circle cx="373.4" cy="169.3" r="0.43"/><circle cx="293.6" cy="115.4" r="0.60"/><circle cx="362.0" cy="129.5" r="0.43"/><circle cx="323.4" cy="168.4" r="0.59"/><circle cx="368.9" cy="179.8" r="0.59"/><circle cx="366.0" cy="115.1" r="0.40"/><circle cx="368.5" cy="156.1" r="0.48"/><circle cx="301.7" cy="136.6" r="0.48"/><circle cx="335.1" cy="144.6" r="0.45"/><circle cx="297.5" cy="127.8" r="0.43"/><circle cx="299.1" cy="142.2" r="0.43"/><circle cx="362.8" cy="151.0" r="0.52"/><circle cx="348.2" cy="130.0" r="0.41"/><circle cx="297.2" cy="136.9" r="0.49"/><circle cx="313.0" cy="134.8" r="0.61"/><circle cx="290.8" cy="144.5" r="0.50"/><circle cx="315.7" cy="163.3" r="0.46"/><circle cx="293.8" cy="124.8" r="0.64"/><circle cx="321.5" cy="122.0" r="0.64"/><circle cx="348.7" cy="179.0" r="0.48"/><circle cx="363.7" cy="116.8" r="0.46"/><circle cx="362.3" cy="149.1" r="0.60"/><circle cx="325.1" cy="173.6" r="0.42"/><circle cx="346.7" cy="126.8" r="0.45"/><circle cx="370.4" cy="143.2" r="0.60"/><circle cx="315.8" cy="163.7" r="0.63"/><circle cx="347.0" cy="130.0" r="0.57"/><circle cx="376.5" cy="168.5" r="0.51"/><circle cx="326.3" cy="120.7" r="0.59"/><circle cx="304.4" cy="128.9" r="0.41"/><circle cx="304.9" cy="140.1" r="0.52"/><circle cx="305.9" cy="142.9" r="0.59"/><circle cx="298.8" cy="123.2" r="0.53"/><circle cx="372.3" cy="176.4" r="0.54"/><circle cx="298.3" cy="173.4" r="0.65"/><circle cx="371.8" cy="150.1" r="0.50"/><circle cx="343.4" cy="167.8" r="0.65"/><circle cx="334.9" cy="148.5" r="0.48"/><circle cx="339.2" cy="151.0" r="0.47"/><circle cx="331.7" cy="176.3" r="0.46"/><circle cx="313.1" cy="134.7" r="0.61"/><circle cx="317.6" cy="170.2" r="0.63"/><circle cx="369.7" cy="168.7" r="0.45"/><circle cx="331.0" cy="170.0" r="0.46"/><circle cx="344.8" cy="173.2" r="0.63"/><circle cx="321.9" cy="122.1" r="0.41"/><circle cx="318.8" cy="151.2" r="0.47"/><circle cx="365.0" cy="158.2" r="0.56"/><circle cx="365.2" cy="136.3" r="0.56"/><circle cx="321.9" cy="133.7" r="0.43"/><circle cx="361.8" cy="175.2" r="0.41"/><circle cx="355.2" cy="118.2" r="0.50"/><circle cx="318.8" cy="175.4" r="0.51"/><circle cx="336.5" cy="138.2" r="0.46"/><circle cx="312.1" cy="118.2" r="0.40"/><circle cx="340.1" cy="164.2" r="0.57"/><circle cx="313.6" cy="181.2" r="0.42"/><circle cx="329.3" cy="136.7" r="0.44"/><circle cx="377.5" cy="162.6" r="0.43"/><circle cx="306.1" cy="169.1" r="0.49"/><circle cx="317.4" cy="134.2" r="0.48"/><circle cx="343.6" cy="135.2" r="0.55"/><circle cx="295.8" cy="150.4" r="0.55"/><circle cx="319.1" cy="173.0" r="0.63"/><circle cx="349.8" cy="142.0" r="0.44"/><circle cx="346.9" cy="133.7" r="0.44"/><circle cx="338.4" cy="127.6" r="0.56"/><circle cx="359.1" cy="114.8" r="0.56"/><circle cx="307.4" cy="136.9" r="0.58"/><circle cx="377.8" cy="135.3" r="0.59"/><circle cx="321.6" cy="178.0" r="0.44"/><circle cx="350.5" cy="119.6" r="0.54"/><circle cx="357.6" cy="176.1" r="0.59"/><circle cx="340.0" cy="141.2" r="0.56"/><circle cx="349.0" cy="155.6" r="0.58"/><circle cx="357.8" cy="177.7" r="0.56"/><circle cx="369.7" cy="164.3" r="0.50"/><circle cx="363.0" cy="138.8" r="0.61"/><circle cx="370.0" cy="175.0" r="0.63"/><circle cx="353.0" cy="147.9" r="0.47"/><circle cx="348.2" cy="174.7" r="0.49"/><circle cx="309.2" cy="165.5" r="0.63"/><circle cx="308.8" cy="123.5" r="0.43"/><circle cx="340.2" cy="170.6" r="0.46"/><circle cx="362.0" cy="117.2" r="0.45"/><circle cx="339.8" cy="165.5" r="0.52"/><circle cx="352.6" cy="138.5" r="0.49"/><circle cx="337.4" cy="114.1" r="0.45"/><circle cx="321.9" cy="158.6" r="0.45"/><circle cx="312.2" cy="181.4" r="0.56"/><circle cx="327.4" cy="167.2" r="0.58"/><circle cx="364.3" cy="152.0" r="0.55"/><circle cx="298.8" cy="143.1" r="0.50"/><circle cx="313.3" cy="138.8" r="0.62"/><circle cx="310.3" cy="121.7" r="0.48"/><circle cx="305.4" cy="115.6" r="0.63"/><circle cx="339.8" cy="115.8" r="0.53"/><circle cx="305.8" cy="146.9" r="0.64"/><circle cx="379.0" cy="141.0" r="0.60"/><circle cx="334.9" cy="119.5" r="0.50"/><circle cx="363.7" cy="166.9" r="0.58"/><circle cx="379.9" cy="139.9" r="0.58"/><circle cx="364.5" cy="176.9" r="0.62"/><circle cx="369.4" cy="137.1" r="0.49"/><circle cx="346.3" cy="122.2" r="0.48"/><circle cx="323.8" cy="128.0" r="0.45"/><circle cx="349.4" cy="135.1" r="0.41"/><circle cx="362.6" cy="178.3" r="0.46"/><circle cx="352.3" cy="119.7" r="0.46"/><circle cx="305.0" cy="157.6" r="0.54"/><circle cx="364.8" cy="158.9" r="0.59"/><circle cx="369.6" cy="153.7" r="0.46"/><circle cx="304.8" cy="172.2" r="0.61"/><circle cx="348.8" cy="178.7" r="0.60"/><circle cx="326.7" cy="126.6" r="0.51"/><circle cx="373.5" cy="174.4" r="0.40"/><circle cx="290.7" cy="144.4" r="0.63"/><circle cx="370.0" cy="170.9" r="0.42"/><circle cx="308.7" cy="166.6" r="0.51"/><circle cx="319.0" cy="179.3" r="0.40"/><circle cx="334.3" cy="174.0" r="0.58"/><circle cx="370.8" cy="132.5" r="0.54"/><circle cx="379.1" cy="123.0" r="0.51"/><circle cx="380.2" cy="124.9" r="0.59"/><circle cx="358.2" cy="131.5" r="0.65"/><circle cx="361.0" cy="123.0" r="0.65"/><circle cx="370.3" cy="146.6" r="0.41"/><circle cx="361.4" cy="153.8" r="0.59"/><circle cx="297.2" cy="146.6" r="0.60"/><circle cx="356.3" cy="125.8" r="0.48"/><circle cx="331.3" cy="145.2" r="0.65"/><circle cx="374.9" cy="114.1" r="0.55"/><circle cx="302.5" cy="172.8" r="0.53"/><circle cx="371.7" cy="175.8" r="0.63"/><circle cx="305.4" cy="118.4" r="0.59"/><circle cx="332.3" cy="166.9" r="0.51"/><circle cx="327.7" cy="163.9" r="0.49"/><circle cx="335.2" cy="141.1" r="0.57"/><circle cx="296.5" cy="145.4" r="0.55"/><circle cx="352.3" cy="175.3" r="0.49"/><circle cx="377.5" cy="161.8" r="0.50"/><circle cx="341.1" cy="138.6" r="0.56"/><circle cx="292.3" cy="175.0" r="0.49"/><circle cx="291.1" cy="119.9" r="0.48"/><circle cx="313.9" cy="171.0" r="0.49"/><circle cx="373.4" cy="132.9" r="0.49"/><circle cx="376.6" cy="172.4" r="0.63"/><circle cx="300.4" cy="118.7" r="0.57"/><circle cx="320.7" cy="121.1" r="0.42"/><circle cx="319.4" cy="135.1" r="0.57"/><circle cx="380.0" cy="125.5" r="0.60"/><circle cx="344.1" cy="172.9" r="0.65"/><circle cx="373.4" cy="123.0" r="0.58"/><circle cx="360.4" cy="139.9" r="0.41"/><circle cx="359.2" cy="156.7" r="0.59"/><circle cx="358.8" cy="164.0" r="0.41"/><circle cx="375.7" cy="179.0" r="0.49"/><circle cx="361.5" cy="177.8" r="0.51"/><circle cx="320.6" cy="154.9" r="0.60"/><circle cx="327.5" cy="161.5" r="0.64"/><circle cx="324.0" cy="175.9" r="0.44"/><circle cx="344.0" cy="170.7" r="0.50"/><circle cx="315.8" cy="132.9" r="0.49"/><circle cx="325.5" cy="142.1" r="0.46"/><circle cx="344.2" cy="129.1" r="0.47"/><circle cx="332.3" cy="175.9" r="0.47"/><circle cx="306.5" cy="166.7" r="0.55"/><circle cx="301.0" cy="180.2" r="0.45"/><circle cx="347.6" cy="130.2" r="0.61"/><circle cx="323.7" cy="156.8" r="0.60"/><circle cx="354.0" cy="135.1" r="0.48"/><circle cx="343.0" cy="149.7" r="0.58"/><circle cx="296.2" cy="118.4" r="0.40"/><circle cx="363.3" cy="125.9" r="0.59"/><circle cx="331.6" cy="178.9" r="0.56"/><circle cx="367.0" cy="120.8" r="0.62"/><circle cx="324.7" cy="116.9" r="0.61"/><circle cx="311.3" cy="158.4" r="0.40"/><circle cx="330.0" cy="145.6" r="0.51"/><circle cx="365.2" cy="133.6" r="0.63"/><circle cx="304.6" cy="179.8" r="0.47"/><circle cx="351.7" cy="177.3" r="0.57"/><circle cx="367.6" cy="119.9" r="0.64"/><circle cx="293.7" cy="160.0" r="0.61"/><circle cx="359.8" cy="163.5" r="0.55"/><circle cx="379.8" cy="129.2" r="0.63"/><circle cx="363.4" cy="127.0" r="0.52"/></g>
</g></g>
<path d="M357.2 113.5L364 119L370.6 125.4L376 131L381.6 139" stroke="#d9b6d3" stroke-width="0.6" fill="none"/>
<path d="M368 182C371 178 374 174 377 172C379 170 380.5 168 381.5 166" stroke="#e0b2cf" stroke-width="0.6" fill="none"/>
<path d="M369.10 170.90L375.64 168.18L373.46 171.51L374.64 175.31Z" fill="#111"/>
<text x="291.5" y="177.6" font-size="3.7" fill="#222">100 µm</text>
<path d="M291.5 179.7H303.7" stroke="#111" stroke-width="0.8"/>
<text x="291.8" y="125.7" font-size="10.8" font-weight="bold" stroke="#000" stroke-width="0.45" fill="#000" textLength="8.8" lengthAdjust="spacingAndGlyphs">G</text>
</g>
<rect x="289.3" y="113.3" width="92.3" height="69.4" fill="none" stroke="#4a4a4a" stroke-width="1"/>
<!-- ============ PANEL H ============ -->
<g clip-path="url(#cH)">
<rect x="397" y="113" width="94" height="71" fill="#efedef"/>
<clipPath id="cHt"><path d="M397.9 136.9L410 131.5L421 127.3L423.8 124.8L425.8 121.5L430 119L433.5 116.7L440 115L447 114.2L455 114.2L462.3 114.8L468 116.5L472 118.7L476 121.5L479.6 125.4L481.5 130L483.5 135L485.5 141L487.3 148.5L489.2 156.2L490.5 160V183.5H397.9Z"/></clipPath>
<path d="M397.9 136.9L410 131.5L421 127.3L423.8 124.8L425.8 121.5L430 119L433.5 116.7L440 115L447 114.2L455 114.2L462.3 114.8L468 116.5L472 118.7L476 121.5L479.6 125.4L481.5 130L483.5 135L485.5 141L487.3 148.5L489.2 156.2L490.5 160V183.5H397.9Z" fill="#d6b0d6"/>
<path d="M397.9 136.9L410 131.5L421 127.3L423.8 124.8L425.8 121.5L430 119L433.5 116.7L440 115L447 114.2L455 114.2L462.3 114.8L468 116.5L472 118.7L476 121.5L479.6 125.4L481.5 130L483.5 135L485.5 141L487.3 148.5L489.2 156.2L490.5 160V183.5H397.9Z" fill="#000" filter="url(#mot)" opacity="0.35"/>
<path d="M397.9 136.9L410 131.5L421 127.3L423.8 124.8L425.8 121.5L430 119L433.5 116.7L440 115L447 114.2L455 114.2L462.3 114.8L468 116.5L472 118.7L476 121.5L479.6 125.4L481.5 130L483.5 135L485.5 141L487.3 148.5L489.2 156.2L490.5 160V183.5H397.9Z" fill="#000" filter="url(#motw)" opacity="0.25"/>
<g clip-path="url(#cHt)"><g fill="#7f4f96" opacity="0.3"><circle cx="435.6" cy="150.9" r="0.62"/><circle cx="414.3" cy="129.3" r="0.41"/><circle cx="408.7" cy="114.6" r="0.44"/><circle cx="445.3" cy="181.3" r="0.57"/><circle cx="432.8" cy="141.5" r="0.57"/><circle cx="428.0" cy="119.0" r="0.61"/><circle cx="454.8" cy="121.6" r="0.42"/><circle cx="406.7" cy="179.2" r="0.43"/><circle cx="455.5" cy="179.9" r="0.41"/><circle cx="433.5" cy="146.5" r="0.63"/><circle cx="415.4" cy="131.6" r="0.46"/><circle cx="402.5" cy="159.8" r="0.60"/><circle cx="438.1" cy="116.6" r="0.58"/><circle cx="465.8" cy="158.4" r="0.48"/><circle cx="474.4" cy="156.9" r="0.55"/><circle cx="447.7" cy="129.9" r="0.51"/><circle cx="471.1" cy="160.5" r="0.49"/><circle cx="473.4" cy="171.1" r="0.41"/><circle cx="412.5" cy="129.2" r="0.40"/><circle cx="467.3" cy="158.0" r="0.54"/><circle cx="489.5" cy="138.3" r="0.45"/><circle cx="408.3" cy="137.1" r="0.61"/><circle cx="453.8" cy="118.0" r="0.51"/><circle cx="402.4" cy="156.4" r="0.43"/><circle cx="414.5" cy="157.7" r="0.61"/><circle cx="455.0" cy="134.0" r="0.56"/><circle cx="423.0" cy="114.5" r="0.47"/><circle cx="461.3" cy="156.6" r="0.45"/><circle cx="475.3" cy="170.5" r="0.47"/><circle cx="486.4" cy="131.9" r="0.42"/><circle cx="445.1" cy="172.8" r="0.55"/><circle cx="448.3" cy="147.2" r="0.47"/><circle cx="425.6" cy="141.4" r="0.54"/><circle cx="484.7" cy="118.9" r="0.46"/><circle cx="484.8" cy="158.7" r="0.42"/><circle cx="438.6" cy="158.3" r="0.63"/><circle cx="405.7" cy="175.4" r="0.59"/><circle cx="423.6" cy="150.3" r="0.61"/><circle cx="420.4" cy="161.7" r="0.54"/><circle cx="404.7" cy="132.5" r="0.50"/><circle cx="410.8" cy="178.2" r="0.46"/><circle cx="419.3" cy="154.6" r="0.53"/><circle cx="427.4" cy="136.1" r="0.52"/><circle cx="481.7" cy="119.4" r="0.63"/><circle cx="484.3" cy="160.5" r="0.60"/><circle cx="433.2" cy="179.5" r="0.59"/><circle cx="461.2" cy="144.5" r="0.46"/><circle cx="461.6" cy="164.0" r="0.40"/><circle cx="426.6" cy="150.4" r="0.45"/><circle cx="409.9" cy="126.8" r="0.40"/><circle cx="409.1" cy="140.6" r="0.53"/><circle cx="456.7" cy="135.0" r="0.43"/><circle cx="482.7" cy="157.0" r="0.57"/><circle cx="461.4" cy="135.9" r="0.55"/><circle cx="427.3" cy="158.4" r="0.60"/><circle cx="399.5" cy="168.1" r="0.43"/><circle cx="399.5" cy="119.1" r="0.54"/><circle cx="476.9" cy="176.9" r="0.44"/><circle cx="437.5" cy="178.0" r="0.62"/><circle cx="474.0" cy="130.9" r="0.47"/><circle cx="411.7" cy="131.9" r="0.50"/><circle cx="471.3" cy="158.9" r="0.44"/><circle cx="414.4" cy="144.6" r="0.62"/><circle cx="441.5" cy="167.7" r="0.57"/><circle cx="478.8" cy="147.8" r="0.49"/><circle cx="440.1" cy="168.5" r="0.47"/><circle cx="415.8" cy="170.9" r="0.52"/><circle cx="457.0" cy="125.8" r="0.41"/><circle cx="418.7" cy="143.2" r="0.41"/><circle cx="423.1" cy="178.1" r="0.51"/><circle cx="398.4" cy="168.6" r="0.48"/><circle cx="413.9" cy="157.4" r="0.57"/><circle cx="427.8" cy="162.3" r="0.62"/><circle cx="429.2" cy="147.8" r="0.40"/><circle cx="452.4" cy="133.9" r="0.56"/><circle cx="467.7" cy="137.2" r="0.57"/><circle cx="484.7" cy="125.5" r="0.60"/><circle cx="441.9" cy="178.2" r="0.42"/><circle cx="433.2" cy="125.0" r="0.46"/><circle cx="479.9" cy="150.1" r="0.49"/><circle cx="486.6" cy="117.6" r="0.40"/><circle cx="468.6" cy="151.9" r="0.61"/><circle cx="443.7" cy="178.2" r="0.48"/><circle cx="419.1" cy="174.1" r="0.53"/><circle cx="400.8" cy="114.7" r="0.40"/><circle cx="465.1" cy="157.4" r="0.43"/><circle cx="471.3" cy="166.8" r="0.56"/><circle cx="451.2" cy="143.5" r="0.57"/><circle cx="433.8" cy="177.0" r="0.55"/><circle cx="459.9" cy="176.9" r="0.65"/><circle cx="447.0" cy="121.7" r="0.53"/><circle cx="482.5" cy="128.1" r="0.46"/><circle cx="423.3" cy="129.8" r="0.60"/><circle cx="447.3" cy="119.8" r="0.53"/><circle cx="462.0" cy="115.8" r="0.45"/><circle cx="399.3" cy="161.3" r="0.50"/><circle cx="399.3" cy="130.8" r="0.45"/><circle cx="450.3" cy="143.0" r="0.51"/><circle cx="428.3" cy="116.7" r="0.48"/><circle cx="456.3" cy="150.6" r="0.55"/><circle cx="412.6" cy="116.9" r="0.59"/><circle cx="463.6" cy="158.8" r="0.64"/><circle cx="426.2" cy="163.8" r="0.47"/><circle cx="453.1" cy="175.7" r="0.51"/><circle cx="454.6" cy="181.1" r="0.52"/><circle cx="420.0" cy="178.9" r="0.57"/><circle cx="428.0" cy="132.7" r="0.41"/><circle cx="405.9" cy="180.6" r="0.54"/><circle cx="469.6" cy="130.3" r="0.61"/><circle cx="463.0" cy="173.5" r="0.52"/><circle cx="482.4" cy="152.7" r="0.44"/><circle cx="481.6" cy="134.5" r="0.63"/><circle cx="448.6" cy="141.2" r="0.53"/><circle cx="432.3" cy="119.3" r="0.41"/><circle cx="405.8" cy="175.4" r="0.49"/><circle cx="400.1" cy="141.2" r="0.56"/><circle cx="456.3" cy="176.1" r="0.49"/><circle cx="485.8" cy="114.8" r="0.44"/><circle cx="443.1" cy="158.0" r="0.50"/><circle cx="470.2" cy="151.1" r="0.40"/><circle cx="433.9" cy="157.6" r="0.46"/><circle cx="415.1" cy="157.8" r="0.52"/><circle cx="488.9" cy="178.7" r="0.48"/><circle cx="401.0" cy="126.1" r="0.51"/><circle cx="437.0" cy="143.4" r="0.42"/><circle cx="425.5" cy="141.9" r="0.59"/><circle cx="408.6" cy="157.1" r="0.49"/><circle cx="469.3" cy="160.3" r="0.45"/><circle cx="462.9" cy="139.1" r="0.61"/><circle cx="399.9" cy="135.3" r="0.53"/><circle cx="425.0" cy="140.5" r="0.54"/><circle cx="419.9" cy="172.4" r="0.47"/><circle cx="461.5" cy="179.3" r="0.42"/><circle cx="478.7" cy="125.9" r="0.51"/><circle cx="408.9" cy="177.1" r="0.48"/><circle cx="445.3" cy="180.0" r="0.44"/><circle cx="405.2" cy="161.2" r="0.41"/><circle cx="409.6" cy="131.3" r="0.40"/><circle cx="429.6" cy="117.9" r="0.63"/><circle cx="444.9" cy="116.1" r="0.59"/><circle cx="419.9" cy="173.9" r="0.41"/><circle cx="409.2" cy="139.2" r="0.61"/><circle cx="483.8" cy="179.6" r="0.45"/><circle cx="432.2" cy="172.0" r="0.60"/><circle cx="484.5" cy="119.5" r="0.41"/><circle cx="435.0" cy="171.3" r="0.57"/><circle cx="436.2" cy="160.4" r="0.51"/><circle cx="474.8" cy="133.6" r="0.59"/><circle cx="412.0" cy="154.1" r="0.48"/><circle cx="429.1" cy="132.1" r="0.41"/></g></g>
<path d="M397.9 136.9L410 131.5L421 127.3L423.8 124.8L425.8 121.5L430 119L433.5 116.7L440 115L447 114.2L455 114.2L462.3 114.8L468 116.5L472 118.7L476 121.5L479.6 125.4L481.5 130L483.5 135L485.5 141L487.3 148.5L489.2 156.2L490.5 160" stroke="#c295c6" stroke-width="0.8" fill="none"/>
<path d="M422 124.5L424.2 124.2L424 130.5L422.6 130.5Z" fill="#f2eef2"/>
<path d="M480 124L483 122L484.5 126L482 127Z M485 137L487.5 136L488 140Z" fill="#d9bfdc"/>
<text x="400" y="177.6" font-size="3.7" fill="#222">100 µm</text>
<path d="M400 179.7H412.2" stroke="#111" stroke-width="0.8"/>
<text x="400.7" y="125.8" font-size="10.6" font-weight="bold" stroke="#000" stroke-width="0.45" fill="#000" textLength="8.6" lengthAdjust="spacingAndGlyphs">H</text>
</g>
<rect x="397.9" y="113.3" width="92.3" height="69.4" fill="none" stroke="#4a4a4a" stroke-width="1"/>
<!-- ============ PANEL J ============ -->
<g clip-path="url(#cJ)">
<rect x="180" y="208" width="91" height="60" fill="#000"/>
<g transform="translate(226.1,238.2) scale(0.985,0.92)">
<use href="#brain" fill="#0f102e"/>
<use href="#brain" fill="#000" filter="url(#bspk)" opacity="0.24"/>
<use href="#brain" fill="none" stroke="#2a3282" stroke-width="1.1" opacity="0.45"/>
<path d="M-13 -9C-10 -13 -5 -13 -2 -10L-0.5 -8.5L1 -10C4 -13 9 -13 12 -9" stroke="#2c3a8c" stroke-width="2.6" fill="none" opacity="0.8"/>
<path d="M-13 -9C-10 -13 -5 -13 -2 -10L-0.5 -8.5L1 -10C4 -13 9 -13 12 -9" stroke="#07081c" stroke-width="1.5" fill="none"/>
<path d="M-10 -6C-6 -8 -3 -7.5 -1 -5.5M0 -5.5C2 -7.5 6 -8 10 -6" stroke="#26307a" stroke-width="1" fill="none" opacity="0.8"/>
</g>
<path d="M233 213H268V236L265 233L262 228L258 225.3L252 224.4L246 224.5L242 222.5L238.5 220.7L235.5 219.3L233 218.5Z" fill="#000"/>
<g stroke="#63cf45" fill="none" stroke-linecap="round" stroke-linejoin="round">
<path d="M226.7 217.5C228 216 229.6 215.8 231 215.8C232.5 216.2 234 218.5 235.5 219.5" stroke-width="1.1"/>
<path d="M227.3 218.1C227 221 226.3 223.5 225.6 225.6" stroke-width="1.1"/>
<path d="M218 233.6C221 233 223.5 232.8 225 232.5C226 232 227 231.3 227.3 230.8M228.5 232.5C230 233.2 231.5 233.8 233 234.2" stroke-width="0.8" opacity="0.85"/>
<path d="M235.5 219.5L238.5 221L242 223L245.5 225" stroke-width="1.6" opacity="0.85"/>
<path d="M238 224.5L240.5 228L244 231" stroke-width="2" opacity="0.8"/>
<path d="M256.5 225.3L260 226.4L263 229.5L264.8 233.5L265.6 238" stroke-width="1.7" opacity="0.9"/>
</g>
<g filter="url(#bl1)" opacity="0.9">
<path d="M243 226C246 224.8 250 224.4 254 224.6C257 225 259 226 259.5 228C258.5 230.5 256 232.5 253 234C250 234.5 247 233 245 231.5C243.5 230 242.5 228 243 226Z" fill="#7ad850"/>
</g>
<path d="M245.6 227L248 225.3L252 224.8L256 225L258 226.5L257 229.5L254 231.5L251 233.6L248 232.5L246 230Z" fill="#9eee72"/>
<path d="M184.7 264.2H192.4" stroke="#ddd" stroke-width="1"/>
<text x="183.6" y="221.6" font-size="10.5" font-weight="bold" stroke="#fff" stroke-width="0.45" fill="#fff">J</text>
</g>
<!-- ============ PANEL K ============ -->
<g clip-path="url(#cK)">
<rect x="288" y="208" width="91" height="60" fill="#000"/>
<g transform="translate(333.6,238.65) scale(1.02,0.98)">
<use href="#brain" fill="#101232"/>
<use href="#brain" fill="#000" filter="url(#bspk)" opacity="0.24"/>
<use href="#brain" fill="none" stroke="#2a3282" stroke-width="1.1" opacity="0.45"/>
<path d="M-13 -9C-10 -13 -5 -13 -2 -10L-0.5 -8.5L1 -10C4 -13 9 -13 12 -9" stroke="#2c3a8c" stroke-width="2.6" fill="none" opacity="0.8"/>
<path d="M-13 -9C-10 -13 -5 -13 -2 -10L-0.5 -8.5L1 -10C4 -13 9 -13 12 -9" stroke="#07081c" stroke-width="1.5" fill="none"/>
<path d="M-10 -6C-6 -8 -3 -7.5 -1 -5.5M0 -5.5C2 -7.5 6 -8 10 -6" stroke="#26307a" stroke-width="1" fill="none" opacity="0.8"/>
</g>
<path d="M338 213L376 213L376 231L372 230L366.1 228.6L362.7 226.3L358 225.6L354.6 228L351.1 226.3L348.8 222.8L347.1 219.3L343 216.5L338.5 215.3Z" fill="#000"/>
<g fill="none" stroke-linecap="round" stroke-linejoin="round">
<path d="M338.2 215.6L343 216.8L347 219.6L348.8 223L351.1 226.5L354.6 228.2L358 225.9L362.7 226.6L366.1 228.8" stroke="#4fae38" stroke-width="1.8" opacity="0.7" filter="url(#bl1)"/>
<path d="M338.2 215.6L343 216.8L347 219.6L348.8 223L351.1 226.5L354.6 228.2L358 225.9L362.7 226.6L366.1 228.8" stroke="#68c646" stroke-width="0.8"/>
<path d="M366.1 228.8C369 231 371.5 234 373 238" stroke="#3f8a30" stroke-width="0.6" opacity="0.7"/>
</g>
<g fill="#6cc848" opacity="0.85">
<ellipse cx="345.3" cy="218.4" rx="2.8" ry="2" transform="rotate(30 345.3 218.4)"/>
<ellipse cx="349.3" cy="224.8" rx="2.6" ry="1.4" transform="rotate(25 349.3 224.8)"/>
<ellipse cx="358.4" cy="226.7" rx="2.5" ry="1.7"/>
</g>
<path d="M291.8 265H299.5" stroke="#ddd" stroke-width="1"/>
<text x="292.0" y="221.5" font-size="10.5" font-weight="bold" stroke="#fff" stroke-width="0.45" fill="#fff" textLength="8.6" lengthAdjust="spacingAndGlyphs">K</text>
</g>
<!-- ============ PANEL L ============ -->
<g clip-path="url(#cL)">
<rect x="180" y="292" width="91" height="61" fill="#000"/>
<g transform="translate(226.85,321.8)">
<use href="#brain" fill="#0e0f2d"/>
<use href="#brain" fill="#000" filter="url(#bspk)" opacity="0.24"/>
<use href="#brain" fill="none" stroke="#2a3282" stroke-width="1.1" opacity="0.45"/>
<path d="M-13 -9C-10 -13 -5 -13 -2 -10L-0.5 -8.5L1 -10C4 -13 9 -13 12 -9" stroke="#2c3a8c" stroke-width="2.6" fill="none" opacity="0.8"/>
<path d="M-13 -9C-10 -13 -5 -13 -2 -10L-0.5 -8.5L1 -10C4 -13 9 -13 12 -9" stroke="#07081c" stroke-width="1.5" fill="none"/>
<path d="M-10 -6C-6 -8 -3 -7.5 -1 -5.5M0 -5.5C2 -7.5 6 -8 10 -6" stroke="#26307a" stroke-width="1" fill="none" opacity="0.8"/>
</g>
<path d="M184.4 349.6H192.2" stroke="#ddd" stroke-width="1"/>
<text x="184.6" y="305.6" font-size="10.5" font-weight="bold" stroke="#fff" stroke-width="0.45" fill="#fff">L</text>
</g>

<!-- ============ PANEL M ============ -->
<g id="M">
<text x="291.6" y="306.1" font-size="10.5" font-weight="bold" stroke="#000" stroke-width="0.45" fill="#000" textLength="11" lengthAdjust="spacingAndGlyphs">M</text>
<text transform="translate(310.9,336.4) rotate(-90)" font-size="8.6" fill="#222" text-anchor="middle" textLength="56" lengthAdjust="spacingAndGlyphs">FITC dextran (MFI)</text>
<g fill="#111" font-size="6.5" text-anchor="end">
<text x="326" y="311.8">350</text><text x="326" y="319.9">300</text><text x="326" y="328">250</text><text x="326" y="336.1">200</text><text x="326" y="344.2">150</text><text x="326" y="352.3">100</text><text x="326" y="360.4">50</text><text x="326" y="368.5">0</text>
</g>
<g stroke="#111" stroke-width="1" fill="none">
<path d="M331.7 306.5V366.3"/>
<path d="M329.3 309.6H331.8M329.3 317.7H331.8M329.3 325.8H331.8M329.3 333.9H331.8M329.3 342H331.8M329.3 350.1H331.8M329.3 358.2H331.8M329.3 366.3H331.8"/>
</g>
<path d="M331.3 366.3H382" stroke="#222" stroke-width="1.1"/>
<g stroke="#222" stroke-width="0.8">
<path d="M344 361.7V359.5M342.5 359.5h3"/>
<path d="M357.2 329V317.5M355.7 317.5h3"/>
<path d="M370.6 350.7V343.7M369.1 343.7h3"/>
</g>
<rect x="339.3" y="361.7" width="9.5" height="4.6" fill="#a5002f"/>
<rect x="352.5" y="329" width="9.5" height="37.3" fill="#a5002f"/>
<rect x="365.8" y="350.7" width="9.7" height="15.6" fill="#a5002f"/>
<g fill="#222" font-size="5.5">
<text x="339.5" y="313.2" textLength="17.5" lengthAdjust="spacingAndGlyphs">p&lt;0.05</text><text x="359.5" y="313.2" textLength="17.5" lengthAdjust="spacingAndGlyphs">p&lt;0.05</text>
</g>
<path d="M343.8 315.8H357.5M359.5 315.8H373" stroke="#222" stroke-width="1"/>
<g fill="#111" font-size="6.3" text-anchor="end">
<text transform="translate(346.5,370.5) rotate(-45)">Sham</text>
<text transform="translate(358.5,370.5) rotate(-45)">TBI+TBST</text>
<text transform="translate(376.5,370.5) rotate(-45)">TBI+A2</text>
</g>
</g>
<!-- ============ PANEL N ============ -->
<g id="N">
<text x="388.6" y="221.8" font-size="11" font-weight="bold" stroke="#000" stroke-width="0.45" fill="#000" textLength="8.9" lengthAdjust="spacingAndGlyphs">N</text>
<text transform="translate(398,287) rotate(-90)" font-size="8.6" fill="#222" text-anchor="middle" textLength="63" lengthAdjust="spacingAndGlyphs">% CD31<tspan font-size="5.5" dy="-3">+</tspan><tspan dy="3">/VWF</tspan><tspan font-size="5.5" dy="-3">+</tspan><tspan dy="3"> EVs</tspan></text>
<g fill="#111" font-size="6.3" text-anchor="end">
<text x="411.5" y="246.8">10</text><text x="411.5" y="264.5">8</text><text x="411.5" y="282.2">6</text><text x="411.5" y="299.9">4</text><text x="411.5" y="317.6">2</text><text x="411.5" y="335.3">0</text>
</g>
<g stroke="#111" stroke-width="1" fill="none">
<path d="M416.5 241V333.3"/>
<path d="M413.8 244.6H416.3M413.8 262.3H416.3M413.8 280H416.3M413.8 297.7H416.3M413.8 315.4H416.3M413.8 333.1H416.3"/>
</g>
<path d="M415.8 333.3H511.8" stroke="#222" stroke-width="1.2"/>
<rect x="419.5" y="221.7" width="11.3" height="5" fill="#a5002f"/>
<rect x="419.5" y="230.7" width="11.3" height="5" fill="#2e4b86"/>
<rect x="419.5" y="239.7" width="11.3" height="5" fill="#69b141"/>
<g fill="#222" font-size="5.6">
<text x="434.3" y="226.2" textLength="13.6" lengthAdjust="spacingAndGlyphs">Sham</text><text x="434.3" y="235.2" textLength="22" lengthAdjust="spacingAndGlyphs">TBI-TBST</text><text x="434.3" y="244.2" textLength="17" lengthAdjust="spacingAndGlyphs">TBI-A2</text>
</g>
<g stroke="#222" stroke-width="0.8">
<path d="M425.6 326.2V323.7M424.1 323.7h3"/>
<path d="M435 325.5V323M433.5 323h3"/>
<path d="M444 326.2V322.7M442.5 322.7h3"/>
<path d="M456.5 318.7V316.4M455.0 316.4h3"/>
<path d="M465.6 279.5V267.5M464.1 267.5h3"/>
<path d="M474.8 300V293.7M473.3 293.7h3"/>
<path d="M486.9 323V317.5M485.4 317.5h3"/>
<path d="M496 294V286.3M494.5 286.3h3"/>
<path d="M505.5 311.3V303.7M504.0 303.7h3"/>
</g>
<rect x="421.8" y="326.2" width="7.7" height="7.1" fill="#a5002f"/>
<rect x="431.3" y="325.5" width="7.5" height="7.8" fill="#2e4b86"/>
<rect x="440" y="326.2" width="8" height="7.1" fill="#69b141"/>
<rect x="452.5" y="318.7" width="8" height="14.6" fill="#a5002f"/>
<rect x="461.8" y="279.5" width="7.7" height="53.8" fill="#2e4b86"/>
<rect x="470.8" y="300" width="8" height="33.3" fill="#69b141"/>
<rect x="483" y="323" width="7.8" height="10.3" fill="#a5002f"/>
<rect x="492" y="294" width="8" height="39.3" fill="#2e4b86"/>
<rect x="501.5" y="311.3" width="8" height="22" fill="#69b141"/>
<g fill="#222" font-size="5.6">
<text x="459.5" y="254.5">p &lt; 0.001</text>
<text x="451" y="263.3">p &lt; 0.01</text>
<text x="489.2" y="274">p &lt; 0.005</text>
<text x="481.2" y="282">p &lt; 0.05</text>
</g>
<g stroke="#222" stroke-width="0.8">
<path d="M465 256.5H476M455.5 264.6H466M495 275.3H506M487 284.3H496"/>
</g>
<g fill="#222" font-size="6.6" text-anchor="middle">
<text x="435" y="342.3">Baseline</text><text x="465.5" y="342.3">3</text><text x="496.2" y="342.3">6</text>
</g>
<path d="M452.5 346.8H510" stroke="#222" stroke-width="1"/>
<text x="481.8" y="355" font-size="6.6" fill="#222" text-anchor="middle" textLength="58.5" lengthAdjust="spacingAndGlyphs">Post TBI time (hour)</text>
</g>
</svg>
</body></html>
